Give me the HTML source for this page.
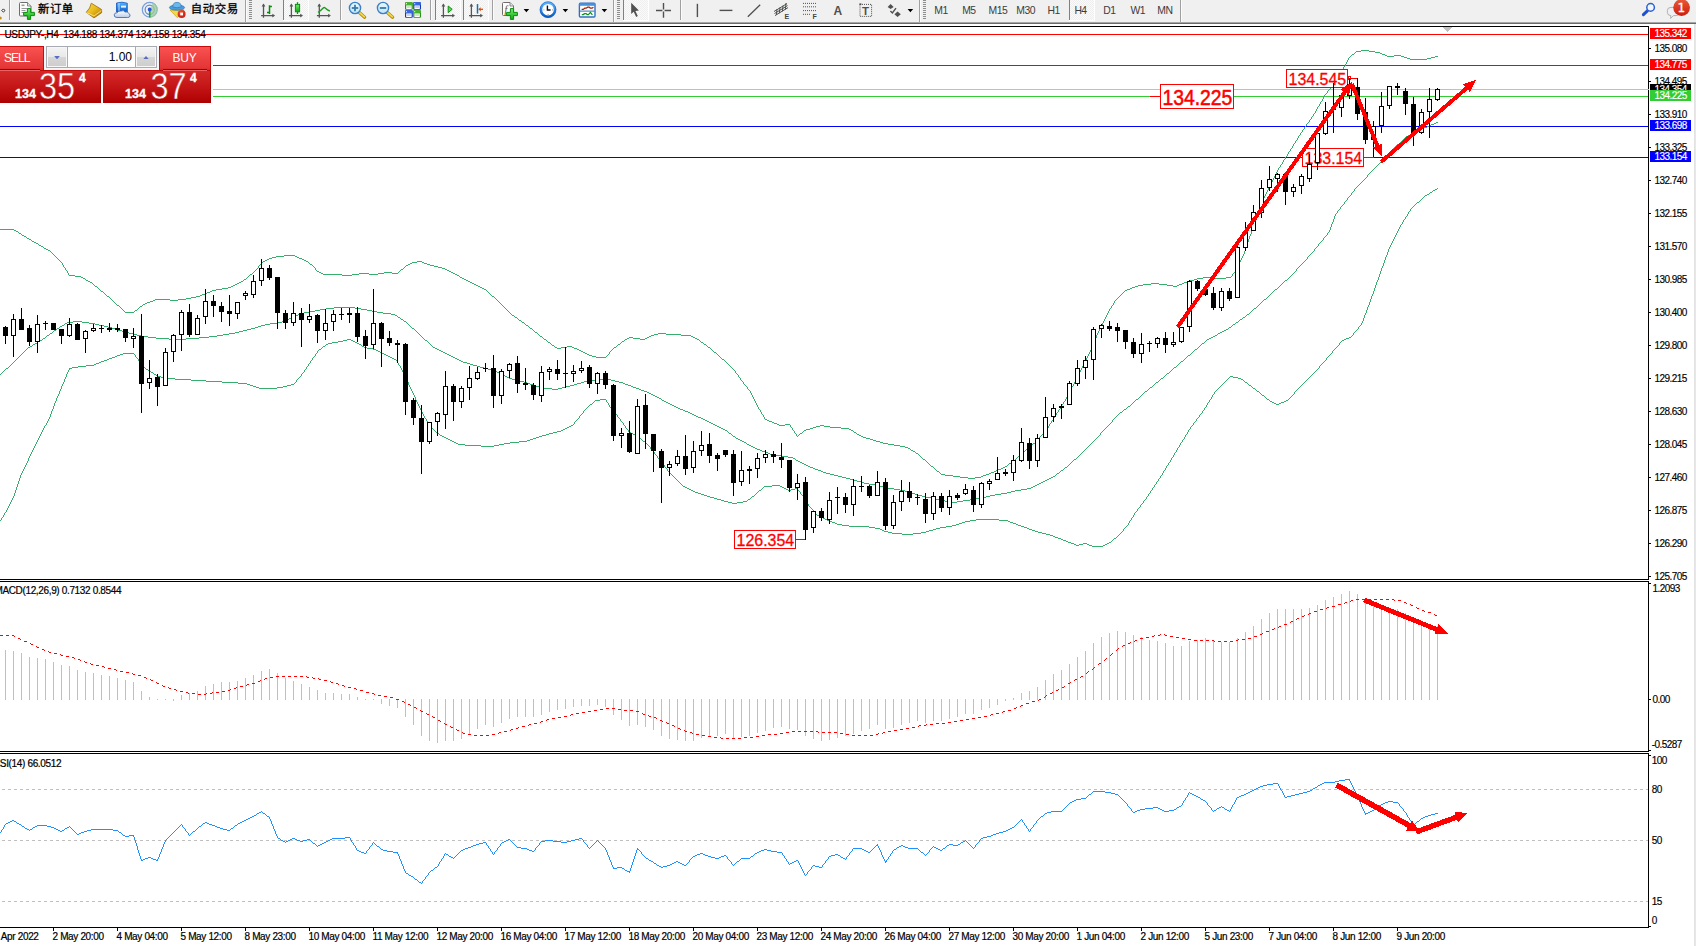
<!DOCTYPE html>
<html lang="zh"><head><meta charset="utf-8"><title>USDJPY H4</title>
<style>
html,body{margin:0;padding:0;background:#fff}
body{width:1696px;height:946px;position:relative;overflow:hidden;font-family:"Liberation Sans","Noto Sans CJK SC",sans-serif}
svg text{white-space:pre}
#tb{position:absolute;left:0;top:0;width:1696px;height:22px;background:#f0f0f0}
#tbs1{position:absolute;left:0;top:22px;width:1696px;height:1px;background:#a6a6a6}
#tbs2{position:absolute;left:0;top:23px;width:1696px;height:1px;background:#6a6a6a}

#oc{position:absolute;left:0;top:44px;width:213px;height:61px;background:#fff;font-family:"Liberation Sans",sans-serif}
#oc .mid{position:absolute;left:44px;top:2px;width:116px;height:24px;background:#f6f6f6}
#oc .btn{position:absolute;top:2px;height:24px;background:linear-gradient(#fa5252,#e43636 90%,#d82a2a);box-shadow:inset 0 1px 0 #c80c0c;color:#fff;font-size:12px}
#oc .sell{left:0;width:44px;box-shadow:inset -1px 1px 0 #c80c0c}
#oc .buy{left:159px;width:52px;box-shadow:inset 1px 1px 0 #c80c0c,inset -1px 0 0 #c80c0c}
#oc .btn span{position:absolute;top:5px;letter-spacing:-1px}
#oc .sell span{left:4px}
#oc .buy span{left:13.5px;letter-spacing:-0.2px}
#oc .btn i{position:absolute;top:23px;height:1px;background:#a00000;z-index:3}
#oc .btn b{position:absolute;top:24px;height:1px;background:#ec6262;z-index:3}
#oc .sell i,#oc .sell b{left:0;width:40px}
#oc .buy i,#oc .buy b{left:4px;width:44px}
#oc .vol{position:absolute;left:46px;top:2px;width:111px;height:22px;box-sizing:border-box;border:1px solid #a9abb3;background:#fff}
#oc .sp{position:absolute;top:0;width:20px;height:20px;background:linear-gradient(#f4f4f4,#e9e9e9 48%,#d6d6d6 52%,#cdcdcd);box-shadow:inset 0 0 0 1px #f7f7f7}
#oc .dn{left:0;border-right:1px solid #a9abb3}
#oc .up{right:0;border-left:1px solid #a9abb3}
#oc .sp svg{position:absolute;left:7px;top:8.5px;width:6px;height:3.3px;opacity:.9}
#oc .val{position:absolute;right:24px;top:3px;font-size:12px;color:#000}
#oc .px{position:absolute;top:26px;height:33px;background:linear-gradient(#d62a2a,#c41616 50%,#ae0000);color:#fff;box-shadow:inset 0 1px 0 #c00808,inset -1px 0 0 #a80000}
#oc .ps{left:0;width:101px}
#oc .pb{left:103px;width:108px}
#oc .px span{position:absolute;line-height:1}
#oc .px svg.bg{position:absolute;left:0;top:0;font-family:"Liberation Sans",sans-serif}
#oc .px .s{font-weight:bold;font-size:12.5px;top:17.5px;-webkit-text-stroke:0.35px #fff}
#oc .px .l{font-size:35px;top:-2.5px;transform-origin:0 0;transform:scaleX(0.93);letter-spacing:-1px}
#oc .px .t{font-weight:bold;font-size:12px;top:1.5px;-webkit-text-stroke:0.35px #fff}
#oc .ps .s{left:15px} #oc .ps .l{left:39px} #oc .ps .t{left:79px}
#oc .pb .s{left:22px} #oc .pb .l{left:47.5px} #oc .pb .t{left:87px}
</style></head><body>
<svg width="1696" height="946" viewBox="0 0 1696 946" shape-rendering="crispEdges" style="position:absolute;left:0;top:0">
<rect x="0" y="26" width="1649" height="1" fill="#000"/>
<rect x="1648" y="26" width="1" height="554" fill="#000"/>
<rect x="0" y="579" width="1649" height="1" fill="#000"/>
<rect x="0" y="581" width="1649" height="1" fill="#000"/>
<rect x="1648" y="581" width="1" height="171" fill="#000"/>
<rect x="0" y="751" width="1649" height="1" fill="#000"/>
<rect x="0" y="753" width="1649" height="1" fill="#000"/>
<rect x="1648" y="753" width="1" height="175" fill="#000"/>
<rect x="0" y="927" width="1649" height="1" fill="#000"/>
<rect x="1694" y="24" width="1" height="922" fill="#e2e2e2"/>
<rect x="1695" y="24" width="1" height="922" fill="#e8e8e8"/>
<rect x="0" y="34" width="1648" height="1" fill="#FF0000"/>
<rect x="0" y="65" width="1648" height="1" fill="#FF0000"/>
<rect x="0" y="89" width="1649" height="1" fill="#C0C0C0"/>
<rect x="0" y="96" width="1648" height="1" fill="#32CD32"/>
<rect x="0" y="126" width="1648" height="1" fill="#0000FF"/>
<rect x="0" y="157" width="1648" height="1" fill="#0000FF"/>
<polygon points="1443,27 1452,27 1447.5,32" fill="#C0C0C0"/>
<path d="M0 229h14v1h-14zM14 230h2v1h-2zM16 231h2v1h-2zM18 232h1v1h-1zM19 233h2v1h-2zM21 234h1v1h-1zM22 235h2v1h-2zM24 236h2v1h-2zM26 237h1v1h-1zM27 238h2v1h-2zM29 239h2v1h-2zM31 240h1v1h-1zM32 241h2v1h-2zM34 242h2v1h-2zM36 243h2v1h-2zM38 244h1v1h-1zM39 245h2v1h-2zM41 246h2v1h-2zM43 247h1v1h-1zM44 248h2v1h-2zM46 249h2v1h-2zM48 250h2v1h-2zM50 251h1v1h-1zM51 252h1v1h-1zM52 253h1v1h-1zM53 254h1v1h-1zM54 255h1v1h-1zM55 256h1v1h-1zM56 257h1v1h-1zM57 258h1v1h-1zM58 259h1v1h-1zM59 260h1v1h-1zM60 261h1v1h-1zM61 262h1v1h-1zM62 263h1v2h-1zM63 265h1v2h-1zM64 267h1v1h-1zM65 268h1v2h-1zM66 270h1v1h-1zM67 271h1v2h-1zM68 273h1v2h-1zM69 275h6v1h-6zM75 276h6v1h-6zM81 277h2v1h-2zM83 278h2v1h-2zM85 279h1v1h-1zM86 280h2v1h-2zM88 281h2v1h-2zM90 282h2v1h-2zM92 283h1v1h-1zM93 284h1v1h-1zM94 285h1v1h-1zM95 286h2v1h-2zM97 287h1v1h-1zM98 288h1v1h-1zM99 289h1v1h-1zM100 290h1v1h-1zM101 291h2v1h-2zM103 292h1v1h-1zM104 293h1v1h-1zM105 294h1v1h-1zM106 295h1v1h-1zM107 296h2v1h-2zM109 297h1v1h-1zM110 298h1v1h-1zM111 299h1v1h-1zM112 300h1v1h-1zM113 301h1v1h-1zM114 302h1v1h-1zM115 303h1v1h-1zM116 304h1v1h-1zM117 305h2v1h-2zM119 306h1v1h-1zM120 307h1v1h-1zM121 308h1v1h-1zM122 309h1v1h-1zM123 310h1v1h-1zM124 311h1v1h-1zM125 312h9v1h-9zM134 311h1v1h-1zM135 310h2v1h-2zM137 309h1v1h-1zM138 308h1v1h-1zM139 307h1v1h-1zM140 306h2v1h-2zM142 305h1v1h-1zM143 304h2v1h-2zM145 303h2v1h-2zM147 302h3v1h-3zM150 301h3v1h-3zM153 300h2v1h-2zM155 299h15v1h-15zM170 300h8v1h-8zM178 299h8v1h-8zM186 298h5v1h-5zM191 297h5v1h-5zM196 296h4v1h-4zM200 295h2v1h-2zM202 294h3v1h-3zM205 293h2v1h-2zM207 292h3v1h-3zM210 291h2v1h-2zM212 290h4v1h-4zM216 289h6v1h-6zM222 288h6v1h-6zM228 287h3v1h-3zM231 286h2v1h-2zM233 285h2v1h-2zM235 284h2v1h-2zM237 283h2v1h-2zM239 282h2v1h-2zM241 281h2v1h-2zM243 280h1v1h-1zM244 279h2v1h-2zM246 278h1v1h-1zM247 277h1v1h-1zM248 276h1v1h-1zM249 275h1v1h-1zM250 274h2v1h-2zM252 273h1v1h-1zM253 272h1v1h-1zM254 271h1v1h-1zM255 270h1v1h-1zM256 269h1v1h-1zM257 268h1v1h-1zM258 266h1v2h-1zM259 265h1v1h-1zM260 264h1v1h-1zM261 263h1v1h-1zM262 262h1v1h-1zM263 261h2v1h-2zM265 260h2v1h-2zM267 259h2v1h-2zM269 258h3v1h-3zM272 257h4v1h-4zM276 256h8v1h-8zM284 255h11v1h-11zM295 256h2v1h-2zM297 257h2v1h-2zM299 258h3v1h-3zM302 259h2v1h-2zM304 260h2v1h-2zM306 261h2v1h-2zM308 262h1v1h-1zM309 263h1v1h-1zM310 264h2v1h-2zM312 265h1v1h-1zM313 266h1v1h-1zM314 267h1v1h-1zM315 268h1v2h-1zM316 270h1v1h-1zM317 271h2v1h-2zM319 272h2v1h-2zM321 273h2v1h-2zM323 274h19v1h-19zM342 275h10v1h-10zM352 274h7v1h-7zM359 273h10v1h-10zM369 274h9v1h-9zM378 273h6v1h-6zM384 272h8v1h-8zM392 273h6v1h-6zM398 272h1v1h-1zM399 271h1v1h-1zM400 270h1v1h-1zM401 269h2v1h-2zM403 268h1v1h-1zM404 267h1v1h-1zM405 266h1v1h-1zM406 265h2v1h-2zM408 264h2v1h-2zM410 263h2v1h-2zM412 262h5v1h-5zM417 261h5v1h-5zM422 262h2v1h-2zM424 263h3v1h-3zM427 264h3v1h-3zM430 265h4v1h-4zM434 266h4v1h-4zM438 267h4v1h-4zM442 268h3v1h-3zM445 269h2v1h-2zM447 270h2v1h-2zM449 271h2v1h-2zM451 272h2v1h-2zM453 273h2v1h-2zM455 274h2v1h-2zM457 275h2v1h-2zM459 276h1v1h-1zM460 277h2v1h-2zM462 278h2v1h-2zM464 279h2v1h-2zM466 280h2v1h-2zM468 281h2v1h-2zM470 282h2v1h-2zM472 283h2v1h-2zM474 284h2v1h-2zM476 285h2v1h-2zM478 286h2v1h-2zM480 287h2v1h-2zM482 288h2v1h-2zM484 289h2v1h-2zM486 290h1v1h-1zM487 291h1v1h-1zM488 292h1v1h-1zM489 293h1v1h-1zM490 294h1v1h-1zM491 295h1v1h-1zM492 296h2v1h-2zM494 297h1v1h-1zM495 298h1v1h-1zM496 299h1v1h-1zM497 300h1v1h-1zM498 301h1v1h-1zM499 302h1v1h-1zM500 303h1v1h-1zM501 304h1v1h-1zM502 305h1v1h-1zM503 306h1v1h-1zM504 307h1v1h-1zM505 308h1v1h-1zM506 309h1v1h-1zM507 310h1v1h-1zM508 311h1v1h-1zM509 312h1v1h-1zM510 313h1v1h-1zM511 314h1v1h-1zM512 315h2v1h-2zM514 316h1v1h-1zM515 317h2v1h-2zM517 318h1v1h-1zM518 319h1v1h-1zM519 320h2v1h-2zM521 321h1v1h-1zM522 322h2v1h-2zM524 323h1v1h-1zM525 324h1v1h-1zM526 325h2v1h-2zM528 326h1v1h-1zM529 327h1v1h-1zM530 328h2v1h-2zM532 329h1v1h-1zM533 330h1v1h-1zM534 331h1v1h-1zM535 332h2v1h-2zM537 333h1v1h-1zM538 334h1v1h-1zM539 335h1v1h-1zM540 336h2v1h-2zM542 337h1v1h-1zM543 338h1v1h-1zM544 339h2v1h-2zM546 340h1v1h-1zM547 341h1v1h-1zM548 342h2v1h-2zM550 343h1v1h-1zM551 344h1v1h-1zM552 345h2v1h-2zM554 346h1v1h-1zM555 347h2v1h-2zM557 348h4v1h-4zM561 347h6v1h-6zM567 346h5v1h-5zM572 347h2v1h-2zM574 348h3v1h-3zM577 349h2v1h-2zM579 350h2v1h-2zM581 351h2v1h-2zM583 352h2v1h-2zM585 353h2v1h-2zM587 354h2v1h-2zM589 355h3v1h-3zM592 356h4v1h-4zM596 357h10v1h-10zM606 356h1v1h-1zM607 355h1v1h-1zM608 354h1v1h-1zM609 352h1v2h-1zM610 351h1v1h-1zM611 350h1v1h-1zM612 349h1v1h-1zM613 348h1v1h-1zM614 347h2v1h-2zM616 346h1v1h-1zM617 345h1v1h-1zM618 344h2v1h-2zM620 343h1v1h-1zM621 342h1v1h-1zM622 341h2v1h-2zM624 340h1v1h-1zM625 339h2v1h-2zM627 338h2v1h-2zM629 337h4v1h-4zM633 338h7v1h-7zM640 339h5v1h-5zM645 338h2v1h-2zM647 337h2v1h-2zM649 336h2v1h-2zM651 335h3v1h-3zM654 334h4v1h-4zM658 333h8v1h-8zM666 334h15v1h-15zM681 335h10v1h-10zM691 336h2v1h-2zM693 337h2v1h-2zM695 338h2v1h-2zM697 339h2v1h-2zM699 340h1v1h-1zM700 341h1v1h-1zM701 342h2v1h-2zM703 343h1v1h-1zM704 344h2v1h-2zM706 345h1v1h-1zM707 346h1v1h-1zM708 347h2v1h-2zM710 348h1v1h-1zM711 349h1v1h-1zM712 350h1v1h-1zM713 351h1v1h-1zM714 352h2v1h-2zM716 353h1v1h-1zM717 354h1v1h-1zM718 355h1v1h-1zM719 356h1v1h-1zM720 357h1v1h-1zM721 358h1v1h-1zM722 359h2v1h-2zM724 360h1v1h-1zM725 361h1v1h-1zM726 362h1v1h-1zM727 363h1v1h-1zM728 364h1v1h-1zM729 365h1v1h-1zM730 366h1v1h-1zM731 367h1v1h-1zM732 368h1v1h-1zM733 369h1v1h-1zM734 370h1v1h-1zM735 371h1v2h-1zM736 373h1v1h-1zM737 374h1v1h-1zM738 375h1v2h-1zM739 377h1v1h-1zM740 378h1v2h-1zM741 380h1v1h-1zM742 381h1v1h-1zM743 382h1v2h-1zM744 384h1v1h-1zM745 385h1v1h-1zM746 386h1v1h-1zM747 387h1v2h-1zM748 389h1v1h-1zM749 390h1v1h-1zM750 391h1v2h-1zM751 393h1v2h-1zM752 395h1v2h-1zM753 397h1v2h-1zM754 399h1v2h-1zM755 401h1v2h-1zM756 403h1v2h-1zM757 405h1v2h-1zM758 407h1v2h-1zM759 409h1v1h-1zM760 410h1v2h-1zM761 412h1v2h-1zM762 414h1v1h-1zM763 415h1v2h-1zM764 417h1v2h-1zM765 419h2v1h-2zM767 420h2v1h-2zM769 421h3v1h-3zM772 422h2v1h-2zM774 423h3v1h-3zM777 424h2v1h-2zM779 425h6v1h-6zM785 424h5v1h-5zM790 425h1v2h-1zM791 427h1v1h-1zM792 428h1v2h-1zM793 430h1v1h-1zM794 431h1v2h-1zM795 433h1v1h-1zM796 434h1v2h-1zM797 436h1v1h-1zM798 435h1v1h-1zM799 434h1v1h-1zM800 433h2v1h-2zM802 432h1v1h-1zM803 431h1v1h-1zM804 430h2v1h-2zM806 429h4v1h-4zM810 428h3v1h-3zM813 427h3v1h-3zM816 426h4v1h-4zM820 425h4v1h-4zM824 426h6v1h-6zM830 427h11v1h-11zM841 428h8v1h-8zM849 429h2v1h-2zM851 430h2v1h-2zM853 431h1v1h-1zM854 432h2v1h-2zM856 433h1v1h-1zM857 434h2v1h-2zM859 435h2v1h-2zM861 436h2v1h-2zM863 437h3v1h-3zM866 438h4v1h-4zM870 439h3v1h-3zM873 440h3v1h-3zM876 441h4v1h-4zM880 442h3v1h-3zM883 443h5v1h-5zM888 444h6v1h-6zM894 445h6v1h-6zM900 446h5v1h-5zM905 447h3v1h-3zM908 448h2v1h-2zM910 449h1v1h-1zM911 450h2v1h-2zM913 451h2v1h-2zM915 452h1v1h-1zM916 453h2v1h-2zM918 454h1v1h-1zM919 455h1v1h-1zM920 456h1v1h-1zM921 457h1v1h-1zM922 458h1v1h-1zM923 459h2v1h-2zM925 460h1v1h-1zM926 461h1v1h-1zM927 462h1v1h-1zM928 463h1v1h-1zM929 464h1v1h-1zM930 465h1v1h-1zM931 466h2v1h-2zM933 467h1v1h-1zM934 468h1v1h-1zM935 469h1v1h-1zM936 470h1v1h-1zM937 471h2v1h-2zM939 472h1v1h-1zM940 473h1v1h-1zM941 474h4v1h-4zM945 475h8v1h-8zM953 476h7v1h-7zM960 477h8v1h-8zM968 478h7v1h-7zM975 477h6v1h-6zM981 476h2v1h-2zM983 475h3v1h-3zM986 474h3v1h-3zM989 473h2v1h-2zM991 472h3v1h-3zM994 471h2v1h-2zM996 470h2v1h-2zM998 469h3v1h-3zM1001 468h2v1h-2zM1003 467h2v1h-2zM1005 466h2v1h-2zM1007 465h1v1h-1zM1008 464h1v1h-1zM1009 463h2v1h-2zM1011 462h1v1h-1zM1012 461h1v1h-1zM1013 460h2v1h-2zM1015 459h1v1h-1zM1016 458h1v1h-1zM1017 457h1v1h-1zM1018 456h1v1h-1zM1019 455h1v1h-1zM1020 454h2v1h-2zM1022 453h1v1h-1zM1023 452h1v1h-1zM1024 451h1v1h-1zM1025 450h1v1h-1zM1026 449h1v1h-1zM1027 448h1v1h-1zM1028 447h2v1h-2zM1030 446h1v1h-1zM1031 445h1v1h-1zM1032 444h1v1h-1zM1033 443h2v1h-2zM1035 442h1v1h-1zM1036 441h1v1h-1zM1037 440h1v1h-1zM1038 439h1v1h-1zM1039 437h1v2h-1zM1040 436h1v1h-1zM1041 435h1v1h-1zM1042 434h1v1h-1zM1043 433h1v1h-1zM1044 431h1v2h-1zM1045 430h1v1h-1zM1046 429h1v1h-1zM1047 428h1v1h-1zM1048 426h1v2h-1zM1049 424h1v2h-1zM1050 423h1v1h-1zM1051 421h1v2h-1zM1052 420h1v1h-1zM1053 418h1v2h-1zM1054 416h1v2h-1zM1055 415h1v1h-1zM1056 413h1v2h-1zM1057 412h1v1h-1zM1058 410h1v2h-1zM1059 409h1v1h-1zM1060 407h1v2h-1zM1061 405h1v2h-1zM1062 404h1v1h-1zM1063 402h1v2h-1zM1064 401h1v1h-1zM1065 399h1v2h-1zM1066 397h1v2h-1zM1067 395h1v2h-1zM1068 393h1v2h-1zM1069 391h1v2h-1zM1070 389h1v2h-1zM1071 387h1v2h-1zM1072 386h1v1h-1zM1073 384h1v2h-1zM1074 382h1v2h-1zM1075 380h1v2h-1zM1076 378h1v2h-1zM1077 376h1v2h-1zM1078 374h1v2h-1zM1079 372h1v2h-1zM1080 370h1v2h-1zM1081 368h1v2h-1zM1082 366h1v2h-1zM1083 364h1v2h-1zM1084 362h1v2h-1zM1085 360h1v2h-1zM1086 358h1v2h-1zM1087 356h1v2h-1zM1088 354h1v2h-1zM1089 352h1v2h-1zM1090 350h1v2h-1zM1091 347h1v3h-1zM1092 345h1v2h-1zM1093 342h1v3h-1zM1094 340h1v2h-1zM1095 338h1v2h-1zM1096 335h1v3h-1zM1097 333h1v2h-1zM1098 331h1v2h-1zM1099 329h1v2h-1zM1100 327h1v2h-1zM1101 325h1v2h-1zM1102 323h1v2h-1zM1103 321h1v2h-1zM1104 319h1v2h-1zM1105 317h1v2h-1zM1106 315h1v2h-1zM1107 313h1v2h-1zM1108 311h1v2h-1zM1109 309h1v2h-1zM1110 308h1v1h-1zM1111 306h1v2h-1zM1112 305h1v1h-1zM1113 303h1v2h-1zM1114 301h1v2h-1zM1115 300h1v1h-1zM1116 299h1v1h-1zM1117 298h1v1h-1zM1118 297h1v1h-1zM1119 296h1v1h-1zM1120 295h1v1h-1zM1121 294h1v1h-1zM1122 293h1v1h-1zM1123 292h1v1h-1zM1124 291h1v1h-1zM1125 290h2v1h-2zM1127 289h3v1h-3zM1130 288h2v1h-2zM1132 287h3v1h-3zM1135 286h3v1h-3zM1138 285h5v1h-5zM1143 284h8v1h-8zM1151 283h8v1h-8zM1159 284h8v1h-8zM1167 285h6v1h-6zM1173 286h4v1h-4zM1177 285h2v1h-2zM1179 284h3v1h-3zM1182 283h2v1h-2zM1184 282h3v1h-3zM1187 281h3v1h-3zM1190 280h4v1h-4zM1194 279h3v1h-3zM1197 278h6v1h-6zM1203 277h12v1h-12zM1215 278h11v1h-11zM1226 277h5v1h-5zM1231 276h1v1h-1zM1232 274h1v2h-1zM1233 273h1v1h-1zM1234 272h1v1h-1zM1235 270h1v2h-1zM1236 268h1v2h-1zM1237 266h1v2h-1zM1238 264h1v2h-1zM1239 262h1v2h-1zM1240 260h1v2h-1zM1241 258h1v2h-1zM1242 256h1v2h-1zM1243 254h1v2h-1zM1244 251h1v3h-1zM1245 248h1v3h-1zM1246 245h1v3h-1zM1247 242h1v3h-1zM1248 239h1v3h-1zM1249 236h1v3h-1zM1250 234h1v2h-1zM1251 231h1v3h-1zM1252 228h1v3h-1zM1253 225h1v3h-1zM1254 223h1v2h-1zM1255 220h1v3h-1zM1256 217h1v3h-1zM1257 214h1v3h-1zM1258 212h1v2h-1zM1259 209h1v3h-1zM1260 206h1v3h-1zM1261 203h1v3h-1zM1262 201h1v2h-1zM1263 198h1v3h-1zM1264 196h1v2h-1zM1265 194h1v2h-1zM1266 192h1v2h-1zM1267 190h1v2h-1zM1268 188h1v2h-1zM1269 186h1v2h-1zM1270 184h1v2h-1zM1271 182h1v2h-1zM1272 180h1v2h-1zM1273 178h1v2h-1zM1274 176h1v2h-1zM1275 174h1v2h-1zM1276 172h1v2h-1zM1277 170h1v2h-1zM1278 168h1v2h-1zM1279 167h1v1h-1zM1280 165h1v2h-1zM1281 164h1v1h-1zM1282 162h1v2h-1zM1283 160h1v2h-1zM1284 159h1v1h-1zM1285 157h1v2h-1zM1286 156h1v1h-1zM1287 154h1v2h-1zM1288 152h1v2h-1zM1289 151h1v1h-1zM1290 149h1v2h-1zM1291 148h1v1h-1zM1292 146h1v2h-1zM1293 144h1v2h-1zM1294 143h1v1h-1zM1295 141h1v2h-1zM1296 140h1v1h-1zM1297 138h1v2h-1zM1298 136h1v2h-1zM1299 135h1v1h-1zM1300 133h1v2h-1zM1301 132h1v1h-1zM1302 130h1v2h-1zM1303 129h1v1h-1zM1304 127h1v2h-1zM1305 126h1v1h-1zM1306 124h1v2h-1zM1307 123h1v1h-1zM1308 122h1v1h-1zM1309 120h1v2h-1zM1310 119h1v1h-1zM1311 117h1v2h-1zM1312 116h1v1h-1zM1313 114h1v2h-1zM1314 113h1v1h-1zM1315 111h1v2h-1zM1316 109h1v2h-1zM1317 107h1v2h-1zM1318 106h1v1h-1zM1319 104h1v2h-1zM1320 102h1v2h-1zM1321 101h1v1h-1zM1322 99h1v2h-1zM1323 97h1v2h-1zM1324 95h1v2h-1zM1325 94h1v1h-1zM1326 93h1v1h-1zM1327 91h1v2h-1zM1328 90h1v1h-1zM1329 89h1v1h-1zM1330 87h1v2h-1zM1331 86h1v1h-1zM1332 85h1v1h-1zM1333 83h1v2h-1zM1334 82h1v1h-1zM1335 81h1v1h-1zM1336 79h1v2h-1zM1337 77h1v2h-1zM1338 76h1v1h-1zM1339 74h1v2h-1zM1340 72h1v2h-1zM1341 71h1v1h-1zM1342 69h1v2h-1zM1343 67h1v2h-1zM1344 66h1v1h-1zM1345 64h1v2h-1zM1346 62h1v2h-1zM1347 60h1v2h-1zM1348 58h1v2h-1zM1349 57h1v1h-1zM1350 56h1v1h-1zM1351 55h1v1h-1zM1352 54h2v1h-2zM1354 53h1v1h-1zM1355 52h1v1h-1zM1356 51h5v1h-5zM1361 50h8v1h-8zM1369 51h6v1h-6zM1375 52h5v1h-5zM1380 53h2v1h-2zM1382 54h3v1h-3zM1385 55h2v1h-2zM1387 56h7v1h-7zM1394 55h7v1h-7zM1401 56h3v1h-3zM1404 57h3v1h-3zM1407 58h3v1h-3zM1410 59h17v1h-17zM1427 58h4v1h-4zM1431 57h4v1h-4zM1435 56h3v1h-3z" fill="#36AE6E"/>
<path d="M0 374h1v1h-1zM1 373h1v1h-1zM2 372h1v1h-1zM3 371h1v1h-1zM4 370h1v1h-1zM5 369h1v1h-1zM6 368h2v1h-2zM8 367h1v1h-1zM9 366h1v1h-1zM10 365h1v1h-1zM11 364h1v1h-1zM12 363h1v1h-1zM13 362h1v1h-1zM14 361h1v1h-1zM15 360h1v1h-1zM16 359h1v1h-1zM17 358h1v1h-1zM18 357h1v1h-1zM19 356h1v1h-1zM20 355h1v1h-1zM21 354h1v1h-1zM22 353h1v1h-1zM23 352h1v1h-1zM24 351h1v1h-1zM25 350h1v1h-1zM26 349h1v1h-1zM27 348h1v1h-1zM28 347h2v1h-2zM30 346h2v1h-2zM32 345h1v1h-1zM33 344h2v1h-2zM35 343h2v1h-2zM37 342h1v1h-1zM38 341h2v1h-2zM40 340h2v1h-2zM42 339h1v1h-1zM43 338h2v1h-2zM45 337h1v1h-1zM46 336h1v1h-1zM47 335h2v1h-2zM49 334h1v1h-1zM50 333h2v1h-2zM52 332h1v1h-1zM53 331h1v1h-1zM54 330h2v1h-2zM56 329h1v1h-1zM57 328h2v1h-2zM59 327h1v1h-1zM60 326h2v1h-2zM62 325h2v1h-2zM64 324h1v1h-1zM65 323h2v1h-2zM67 322h6v1h-6zM73 321h9v1h-9zM82 322h7v1h-7zM89 323h6v1h-6zM95 324h4v1h-4zM99 325h5v1h-5zM104 326h4v1h-4zM108 327h4v1h-4zM112 328h3v1h-3zM115 329h3v1h-3zM118 330h4v1h-4zM122 331h3v1h-3zM125 332h4v1h-4zM129 333h4v1h-4zM133 334h4v1h-4zM137 335h4v1h-4zM141 336h7v1h-7zM148 337h8v1h-8zM156 338h13v1h-13zM169 339h17v1h-17zM186 338h13v1h-13zM199 337h10v1h-10zM209 336h8v1h-8zM217 335h6v1h-6zM223 334h6v1h-6zM229 333h6v1h-6zM235 332h4v1h-4zM239 331h4v1h-4zM243 330h4v1h-4zM247 329h4v1h-4zM251 328h4v1h-4zM255 327h3v1h-3zM258 326h3v1h-3zM261 325h4v1h-4zM265 324h5v1h-5zM270 323h7v1h-7zM277 322h5v1h-5zM282 321h2v1h-2zM284 320h2v1h-2zM286 319h3v1h-3zM289 318h2v1h-2zM291 317h2v1h-2zM293 316h3v1h-3zM296 315h2v1h-2zM298 314h2v1h-2zM300 313h4v1h-4zM304 312h5v1h-5zM309 311h6v1h-6zM315 310h5v1h-5zM320 309h6v1h-6zM326 308h8v1h-8zM334 307h21v1h-21zM355 308h6v1h-6zM361 309h6v1h-6zM367 310h5v1h-5zM372 311h5v1h-5zM377 312h6v1h-6zM383 313h8v1h-8zM391 314h4v1h-4zM395 315h2v1h-2zM397 316h1v1h-1zM398 317h2v1h-2zM400 318h1v1h-1zM401 319h2v1h-2zM403 320h1v1h-1zM404 321h2v1h-2zM406 322h1v1h-1zM407 323h1v1h-1zM408 324h1v1h-1zM409 325h1v1h-1zM410 326h1v1h-1zM411 327h1v1h-1zM412 328h2v1h-2zM414 329h1v1h-1zM415 330h1v1h-1zM416 331h1v1h-1zM417 332h1v1h-1zM418 333h1v1h-1zM419 334h1v1h-1zM420 335h1v1h-1zM421 336h1v1h-1zM422 337h1v1h-1zM423 338h1v1h-1zM424 339h1v1h-1zM425 340h2v1h-2zM427 341h1v1h-1zM428 342h1v1h-1zM429 343h1v1h-1zM430 344h1v1h-1zM431 345h1v1h-1zM432 346h1v1h-1zM433 347h2v1h-2zM435 348h2v1h-2zM437 349h2v1h-2zM439 350h2v1h-2zM441 351h2v1h-2zM443 352h2v1h-2zM445 353h2v1h-2zM447 354h2v1h-2zM449 355h2v1h-2zM451 356h2v1h-2zM453 357h2v1h-2zM455 358h2v1h-2zM457 359h2v1h-2zM459 360h2v1h-2zM461 361h2v1h-2zM463 362h4v1h-4zM467 363h3v1h-3zM470 364h3v1h-3zM473 365h4v1h-4zM477 366h3v1h-3zM480 367h4v1h-4zM484 368h4v1h-4zM488 369h4v1h-4zM492 370h3v1h-3zM495 371h2v1h-2zM497 372h2v1h-2zM499 373h2v1h-2zM501 374h2v1h-2zM503 375h2v1h-2zM505 376h2v1h-2zM507 377h2v1h-2zM509 378h3v1h-3zM512 379h4v1h-4zM516 380h4v1h-4zM520 381h4v1h-4zM524 382h3v1h-3zM527 383h3v1h-3zM530 384h3v1h-3zM533 385h3v1h-3zM536 386h3v1h-3zM539 387h5v1h-5zM544 388h8v1h-8zM552 389h6v1h-6zM558 388h4v1h-4zM562 387h4v1h-4zM566 386h4v1h-4zM570 385h4v1h-4zM574 384h3v1h-3zM577 383h4v1h-4zM581 382h3v1h-3zM584 381h5v1h-5zM589 380h6v1h-6zM595 379h16v1h-16zM611 380h4v1h-4zM615 381h4v1h-4zM619 382h4v1h-4zM623 383h2v1h-2zM625 384h3v1h-3zM628 385h3v1h-3zM631 386h2v1h-2zM633 387h3v1h-3zM636 388h3v1h-3zM639 389h2v1h-2zM641 390h3v1h-3zM644 391h3v1h-3zM647 392h2v1h-2zM649 393h2v1h-2zM651 394h2v1h-2zM653 395h2v1h-2zM655 396h2v1h-2zM657 397h2v1h-2zM659 398h2v1h-2zM661 399h1v1h-1zM662 400h2v1h-2zM664 401h2v1h-2zM666 402h2v1h-2zM668 403h2v1h-2zM670 404h2v1h-2zM672 405h2v1h-2zM674 406h2v1h-2zM676 407h2v1h-2zM678 408h2v1h-2zM680 409h3v1h-3zM683 410h2v1h-2zM685 411h3v1h-3zM688 412h2v1h-2zM690 413h2v1h-2zM692 414h2v1h-2zM694 415h2v1h-2zM696 416h2v1h-2zM698 417h3v1h-3zM701 418h2v1h-2zM703 419h2v1h-2zM705 420h2v1h-2zM707 421h2v1h-2zM709 422h2v1h-2zM711 423h2v1h-2zM713 424h2v1h-2zM715 425h2v1h-2zM717 426h2v1h-2zM719 427h2v1h-2zM721 428h2v1h-2zM723 429h2v1h-2zM725 430h2v1h-2zM727 431h1v1h-1zM728 432h1v1h-1zM729 433h2v1h-2zM731 434h1v1h-1zM732 435h1v1h-1zM733 436h2v1h-2zM735 437h1v1h-1zM736 438h2v1h-2zM738 439h2v1h-2zM740 440h2v1h-2zM742 441h2v1h-2zM744 442h2v1h-2zM746 443h1v1h-1zM747 444h2v1h-2zM749 445h2v1h-2zM751 446h2v1h-2zM753 447h2v1h-2zM755 448h2v1h-2zM757 449h3v1h-3zM760 450h2v1h-2zM762 451h3v1h-3zM765 452h3v1h-3zM768 453h2v1h-2zM770 454h5v1h-5zM775 455h6v1h-6zM781 456h7v1h-7zM788 457h5v1h-5zM793 458h2v1h-2zM795 459h1v1h-1zM796 460h2v1h-2zM798 461h2v1h-2zM800 462h2v1h-2zM802 463h2v1h-2zM804 464h2v1h-2zM806 465h2v1h-2zM808 466h2v1h-2zM810 467h3v1h-3zM813 468h2v1h-2zM815 469h3v1h-3zM818 470h3v1h-3zM821 471h2v1h-2zM823 472h3v1h-3zM826 473h4v1h-4zM830 474h4v1h-4zM834 475h4v1h-4zM838 476h4v1h-4zM842 477h4v1h-4zM846 478h4v1h-4zM850 479h4v1h-4zM854 480h3v1h-3zM857 481h4v1h-4zM861 482h3v1h-3zM864 483h5v1h-5zM869 484h6v1h-6zM875 485h5v1h-5zM880 486h4v1h-4zM884 487h4v1h-4zM888 488h6v1h-6zM894 489h6v1h-6zM900 490h5v1h-5zM905 491h3v1h-3zM908 492h4v1h-4zM912 493h3v1h-3zM915 494h3v1h-3zM918 495h4v1h-4zM922 496h4v1h-4zM926 497h5v1h-5zM931 498h4v1h-4zM935 499h4v1h-4zM939 500h6v1h-6zM945 501h6v1h-6zM951 502h6v1h-6zM957 501h6v1h-6zM963 500h7v1h-7zM970 499h6v1h-6zM976 498h6v1h-6zM982 497h4v1h-4zM986 496h4v1h-4zM990 495h5v1h-5zM995 494h6v1h-6zM1001 493h6v1h-6zM1007 492h4v1h-4zM1011 491h4v1h-4zM1015 490h6v1h-6zM1021 489h6v1h-6zM1027 488h4v1h-4zM1031 487h2v1h-2zM1033 486h2v1h-2zM1035 485h2v1h-2zM1037 484h2v1h-2zM1039 483h2v1h-2zM1041 482h2v1h-2zM1043 481h2v1h-2zM1045 480h2v1h-2zM1047 479h2v1h-2zM1049 478h2v1h-2zM1051 477h2v1h-2zM1053 476h2v1h-2zM1055 475h1v1h-1zM1056 474h1v1h-1zM1057 473h2v1h-2zM1059 472h1v1h-1zM1060 471h1v1h-1zM1061 470h2v1h-2zM1063 469h1v1h-1zM1064 468h1v1h-1zM1065 467h2v1h-2zM1067 466h1v1h-1zM1068 465h1v1h-1zM1069 464h1v1h-1zM1070 463h1v1h-1zM1071 462h1v1h-1zM1072 461h1v1h-1zM1073 460h1v1h-1zM1074 459h2v1h-2zM1076 458h1v1h-1zM1077 457h1v1h-1zM1078 456h1v1h-1zM1079 455h1v1h-1zM1080 454h1v1h-1zM1081 453h1v1h-1zM1082 452h1v1h-1zM1083 451h1v1h-1zM1084 450h1v1h-1zM1085 449h1v1h-1zM1086 448h1v1h-1zM1087 447h1v1h-1zM1088 446h1v1h-1zM1089 445h1v1h-1zM1090 444h1v1h-1zM1091 443h1v1h-1zM1092 442h1v1h-1zM1093 441h1v1h-1zM1094 440h1v1h-1zM1095 439h1v1h-1zM1096 438h1v1h-1zM1097 437h1v1h-1zM1098 436h1v1h-1zM1099 435h1v1h-1zM1100 433h1v2h-1zM1101 432h1v1h-1zM1102 431h1v1h-1zM1103 430h1v1h-1zM1104 429h1v1h-1zM1105 428h1v1h-1zM1106 427h1v1h-1zM1107 426h1v1h-1zM1108 425h1v1h-1zM1109 424h1v1h-1zM1110 423h1v1h-1zM1111 422h1v1h-1zM1112 420h1v2h-1zM1113 419h1v1h-1zM1114 418h1v1h-1zM1115 417h1v1h-1zM1116 416h1v1h-1zM1117 415h1v1h-1zM1118 414h1v1h-1zM1119 413h1v1h-1zM1120 412h2v1h-2zM1122 411h1v1h-1zM1123 410h1v1h-1zM1124 409h2v1h-2zM1126 408h1v1h-1zM1127 407h1v1h-1zM1128 406h2v1h-2zM1130 405h1v1h-1zM1131 404h1v1h-1zM1132 403h1v1h-1zM1133 402h1v1h-1zM1134 401h1v1h-1zM1135 400h1v1h-1zM1136 399h2v1h-2zM1138 398h1v1h-1zM1139 397h1v1h-1zM1140 396h1v1h-1zM1141 395h1v1h-1zM1142 394h1v1h-1zM1143 393h1v1h-1zM1144 392h1v1h-1zM1145 391h2v1h-2zM1147 390h1v1h-1zM1148 389h1v1h-1zM1149 388h1v1h-1zM1150 387h2v1h-2zM1152 386h1v1h-1zM1153 385h1v1h-1zM1154 384h1v1h-1zM1155 383h1v1h-1zM1156 382h2v1h-2zM1158 381h1v1h-1zM1159 380h1v1h-1zM1160 379h1v1h-1zM1161 378h2v1h-2zM1163 377h1v1h-1zM1164 376h1v1h-1zM1165 375h1v1h-1zM1166 374h1v1h-1zM1167 373h2v1h-2zM1169 372h1v1h-1zM1170 371h1v1h-1zM1171 370h1v1h-1zM1172 369h1v1h-1zM1173 368h1v1h-1zM1174 367h2v1h-2zM1176 366h1v1h-1zM1177 365h1v1h-1zM1178 364h1v1h-1zM1179 363h1v1h-1zM1180 362h1v1h-1zM1181 361h2v1h-2zM1183 360h1v1h-1zM1184 359h1v1h-1zM1185 358h1v1h-1zM1186 357h1v1h-1zM1187 356h1v1h-1zM1188 355h2v1h-2zM1190 354h1v1h-1zM1191 353h1v1h-1zM1192 352h1v1h-1zM1193 351h1v1h-1zM1194 350h1v1h-1zM1195 349h2v1h-2zM1197 348h1v1h-1zM1198 347h1v1h-1zM1199 346h1v1h-1zM1200 345h1v1h-1zM1201 344h1v1h-1zM1202 343h2v1h-2zM1204 342h1v1h-1zM1205 341h1v1h-1zM1206 340h1v1h-1zM1207 339h2v1h-2zM1209 338h2v1h-2zM1211 337h2v1h-2zM1213 336h2v1h-2zM1215 335h2v1h-2zM1217 334h1v1h-1zM1218 333h2v1h-2zM1220 332h2v1h-2zM1222 331h2v1h-2zM1224 330h2v1h-2zM1226 329h2v1h-2zM1228 328h1v1h-1zM1229 327h2v1h-2zM1231 326h1v1h-1zM1232 325h1v1h-1zM1233 324h2v1h-2zM1235 323h1v1h-1zM1236 322h2v1h-2zM1238 321h1v1h-1zM1239 320h1v1h-1zM1240 319h2v1h-2zM1242 318h1v1h-1zM1243 317h2v1h-2zM1245 316h1v1h-1zM1246 315h1v1h-1zM1247 314h2v1h-2zM1249 313h1v1h-1zM1250 312h1v1h-1zM1251 311h1v1h-1zM1252 310h1v1h-1zM1253 309h1v1h-1zM1254 308h2v1h-2zM1256 307h1v1h-1zM1257 306h1v1h-1zM1258 305h1v1h-1zM1259 304h1v1h-1zM1260 303h1v1h-1zM1261 302h1v1h-1zM1262 301h1v1h-1zM1263 300h1v1h-1zM1264 299h2v1h-2zM1266 298h1v1h-1zM1267 297h1v1h-1zM1268 296h1v1h-1zM1269 295h1v1h-1zM1270 294h1v1h-1zM1271 293h1v1h-1zM1272 292h1v1h-1zM1273 291h1v1h-1zM1274 290h1v1h-1zM1275 289h2v1h-2zM1277 288h1v1h-1zM1278 287h1v1h-1zM1279 286h1v1h-1zM1280 285h1v1h-1zM1281 284h1v1h-1zM1282 283h1v1h-1zM1283 282h1v1h-1zM1284 281h1v1h-1zM1285 280h2v1h-2zM1287 279h1v1h-1zM1288 278h1v1h-1zM1289 277h1v1h-1zM1290 276h1v1h-1zM1291 275h1v1h-1zM1292 274h1v1h-1zM1293 273h1v1h-1zM1294 272h1v1h-1zM1295 271h1v1h-1zM1296 269h1v2h-1zM1297 268h1v1h-1zM1298 267h1v1h-1zM1299 266h1v1h-1zM1300 265h1v1h-1zM1301 264h1v1h-1zM1302 263h1v1h-1zM1303 262h1v1h-1zM1304 261h1v1h-1zM1305 260h1v1h-1zM1306 259h1v1h-1zM1307 257h1v2h-1zM1308 256h1v1h-1zM1309 255h1v1h-1zM1310 254h1v1h-1zM1311 253h1v1h-1zM1312 252h1v1h-1zM1313 251h1v1h-1zM1314 249h1v2h-1zM1315 248h1v1h-1zM1316 247h1v1h-1zM1317 246h1v1h-1zM1318 244h1v2h-1zM1319 243h1v1h-1zM1320 242h1v1h-1zM1321 241h1v1h-1zM1322 240h1v1h-1zM1323 238h1v2h-1zM1324 237h1v1h-1zM1325 236h1v1h-1zM1326 235h1v1h-1zM1327 233h1v2h-1zM1328 232h1v1h-1zM1329 230h1v2h-1zM1330 227h1v3h-1zM1331 224h1v3h-1zM1332 222h1v2h-1zM1333 219h1v3h-1zM1334 216h1v3h-1zM1335 214h1v2h-1zM1336 213h1v1h-1zM1337 211h1v2h-1zM1338 210h1v1h-1zM1339 209h1v1h-1zM1340 207h1v2h-1zM1341 206h1v1h-1zM1342 205h1v1h-1zM1343 204h1v1h-1zM1344 202h1v2h-1zM1345 201h1v1h-1zM1346 200h1v1h-1zM1347 198h1v2h-1zM1348 197h1v1h-1zM1349 196h1v1h-1zM1350 195h1v1h-1zM1351 193h1v2h-1zM1352 192h1v1h-1zM1353 191h1v1h-1zM1354 189h1v2h-1zM1355 188h1v1h-1zM1356 187h1v1h-1zM1357 186h1v1h-1zM1358 185h1v1h-1zM1359 184h1v1h-1zM1360 183h1v1h-1zM1361 182h1v1h-1zM1362 181h1v1h-1zM1363 180h1v1h-1zM1364 179h1v1h-1zM1365 178h1v1h-1zM1366 177h1v1h-1zM1367 175h1v2h-1zM1368 174h1v1h-1zM1369 173h1v1h-1zM1370 172h1v1h-1zM1371 171h1v1h-1zM1372 170h1v1h-1zM1373 169h1v1h-1zM1374 168h1v1h-1zM1375 167h1v1h-1zM1376 166h1v1h-1zM1377 165h1v1h-1zM1378 164h1v1h-1zM1379 163h1v1h-1zM1380 162h1v1h-1zM1381 161h1v1h-1zM1382 160h1v1h-1zM1383 159h1v1h-1zM1384 157h1v2h-1zM1385 156h1v1h-1zM1386 155h1v1h-1zM1387 154h1v1h-1zM1388 153h1v1h-1zM1389 152h1v1h-1zM1390 151h1v1h-1zM1391 150h1v1h-1zM1392 149h1v1h-1zM1393 148h1v1h-1zM1394 147h1v1h-1zM1395 146h1v1h-1zM1396 145h1v1h-1zM1397 144h2v1h-2zM1399 143h1v1h-1zM1400 142h1v1h-1zM1401 141h1v1h-1zM1402 140h1v1h-1zM1403 139h1v1h-1zM1404 138h1v1h-1zM1405 137h1v1h-1zM1406 136h2v1h-2zM1408 135h2v1h-2zM1410 134h2v1h-2zM1412 133h2v1h-2zM1414 132h2v1h-2zM1416 131h2v1h-2zM1418 130h2v1h-2zM1420 129h2v1h-2zM1422 128h2v1h-2zM1424 127h3v1h-3zM1427 126h2v1h-2zM1429 125h2v1h-2zM1431 124h3v1h-3zM1434 123h2v1h-2zM1436 122h2v1h-2z" fill="#36AE6E"/>
<path d="M0 520h1v1h-1zM1 518h1v2h-1zM2 517h1v1h-1zM3 515h1v2h-1zM4 513h1v2h-1zM5 512h1v1h-1zM6 510h1v2h-1zM7 508h1v2h-1zM8 506h1v2h-1zM9 504h1v2h-1zM10 502h1v2h-1zM11 500h1v2h-1zM12 498h1v2h-1zM13 496h1v2h-1zM14 493h1v3h-1zM15 490h1v3h-1zM16 487h1v3h-1zM17 484h1v3h-1zM18 481h1v3h-1zM19 478h1v3h-1zM20 475h1v3h-1zM21 473h1v2h-1zM22 471h1v2h-1zM23 469h1v2h-1zM24 467h1v2h-1zM25 465h1v2h-1zM26 463h1v2h-1zM27 461h1v2h-1zM28 458h1v3h-1zM29 456h1v2h-1zM30 454h1v2h-1zM31 452h1v2h-1zM32 450h1v2h-1zM33 448h1v2h-1zM34 446h1v2h-1zM35 444h1v2h-1zM36 442h1v2h-1zM37 440h1v2h-1zM38 438h1v2h-1zM39 436h1v2h-1zM40 434h1v2h-1zM41 432h1v2h-1zM42 430h1v2h-1zM43 428h1v2h-1zM44 426h1v2h-1zM45 425h1v1h-1zM46 423h1v2h-1zM47 421h1v2h-1zM48 419h1v2h-1zM49 417h1v2h-1zM50 414h1v3h-1zM51 411h1v3h-1zM52 409h1v2h-1zM53 406h1v3h-1zM54 403h1v3h-1zM55 401h1v2h-1zM56 398h1v3h-1zM57 396h1v2h-1zM58 394h1v2h-1zM59 391h1v3h-1zM60 389h1v2h-1zM61 386h1v3h-1zM62 384h1v2h-1zM63 382h1v2h-1zM64 379h1v3h-1zM65 377h1v2h-1zM66 374h1v3h-1zM67 372h1v2h-1zM68 370h1v2h-1zM69 368h1v2h-1zM70 368h2v1h-2zM72 367h6v1h-6zM78 366h8v1h-8zM86 365h8v1h-8zM94 364h2v1h-2zM96 363h3v1h-3zM99 362h2v1h-2zM101 361h3v1h-3zM104 360h3v1h-3zM107 359h2v1h-2zM109 358h3v1h-3zM112 357h3v1h-3zM115 356h2v1h-2zM117 355h3v1h-3zM120 354h3v1h-3zM123 353h11v1h-11zM134 354h1v1h-1zM135 355h1v2h-1zM136 357h1v1h-1zM137 358h1v1h-1zM138 359h1v2h-1zM139 361h1v1h-1zM140 362h1v1h-1zM141 363h1v1h-1zM142 364h1v2h-1zM143 366h1v1h-1zM144 367h1v1h-1zM145 368h1v1h-1zM146 369h2v1h-2zM148 370h1v1h-1zM149 371h2v1h-2zM151 372h2v1h-2zM153 373h1v1h-1zM154 374h2v1h-2zM156 375h2v1h-2zM158 376h3v1h-3zM161 377h4v1h-4zM165 378h10v1h-10zM175 379h16v1h-16zM191 380h15v1h-15zM206 381h16v1h-16zM222 382h16v1h-16zM238 383h9v1h-9zM247 384h3v1h-3zM250 385h3v1h-3zM253 386h3v1h-3zM256 387h3v1h-3zM259 388h18v1h-18zM277 387h6v1h-6zM283 386h4v1h-4zM287 385h4v1h-4zM291 384h3v1h-3zM294 383h1v1h-1zM295 382h1v1h-1zM296 380h1v2h-1zM297 379h1v1h-1zM298 378h1v1h-1zM299 377h1v1h-1zM300 376h1v1h-1zM301 374h1v2h-1zM302 373h1v1h-1zM303 372h1v1h-1zM304 370h1v2h-1zM305 369h1v1h-1zM306 367h1v2h-1zM307 366h1v1h-1zM308 364h1v2h-1zM309 363h1v1h-1zM310 361h1v2h-1zM311 360h1v1h-1zM312 358h1v2h-1zM313 357h1v1h-1zM314 356h1v1h-1zM315 354h1v2h-1zM316 353h1v1h-1zM317 351h1v2h-1zM318 350h1v1h-1zM319 349h2v1h-2zM321 348h1v1h-1zM322 347h1v1h-1zM323 346h2v1h-2zM325 345h1v1h-1zM326 344h2v1h-2zM328 343h4v1h-4zM332 342h6v1h-6zM338 341h5v1h-5zM343 340h4v1h-4zM347 339h4v1h-4zM351 340h2v1h-2zM353 341h2v1h-2zM355 342h2v1h-2zM357 343h2v1h-2zM359 344h2v1h-2zM361 345h1v1h-1zM362 346h2v1h-2zM364 347h3v1h-3zM367 348h6v1h-6zM373 349h3v1h-3zM376 350h2v1h-2zM378 351h2v1h-2zM380 352h2v1h-2zM382 353h2v1h-2zM384 354h2v1h-2zM386 355h2v1h-2zM388 356h2v1h-2zM390 357h2v1h-2zM392 358h2v1h-2zM394 359h2v1h-2zM396 360h1v1h-1zM397 361h1v2h-1zM398 363h1v2h-1zM399 365h1v1h-1zM400 366h1v2h-1zM401 368h1v2h-1zM402 370h1v2h-1zM403 372h1v2h-1zM404 374h1v2h-1zM405 376h1v2h-1zM406 378h1v2h-1zM407 380h1v2h-1zM408 382h1v3h-1zM409 385h1v2h-1zM410 387h1v2h-1zM411 389h1v2h-1zM412 391h1v2h-1zM413 393h1v2h-1zM414 395h1v2h-1zM415 397h1v3h-1zM416 400h1v2h-1zM417 402h1v2h-1zM418 404h1v2h-1zM419 406h1v2h-1zM420 408h1v2h-1zM421 410h1v2h-1zM422 412h1v2h-1zM423 414h1v2h-1zM424 416h1v2h-1zM425 418h1v1h-1zM426 419h1v2h-1zM427 421h1v1h-1zM428 422h1v1h-1zM429 423h1v2h-1zM430 425h1v1h-1zM431 426h1v2h-1zM432 428h1v1h-1zM433 429h1v1h-1zM434 430h1v1h-1zM435 431h1v1h-1zM436 432h2v1h-2zM438 433h1v1h-1zM439 434h1v1h-1zM440 435h2v1h-2zM442 436h2v1h-2zM444 437h2v1h-2zM446 438h2v1h-2zM448 439h2v1h-2zM450 440h2v1h-2zM452 441h2v1h-2zM454 442h2v1h-2zM456 443h2v1h-2zM458 444h7v1h-7zM465 445h16v1h-16zM481 446h13v1h-13zM494 445h5v1h-5zM499 444h5v1h-5zM504 443h6v1h-6zM510 442h9v1h-9zM519 441h8v1h-8zM527 440h3v1h-3zM530 439h3v1h-3zM533 438h3v1h-3zM536 437h3v1h-3zM539 436h3v1h-3zM542 435h4v1h-4zM546 434h3v1h-3zM549 433h4v1h-4zM553 432h4v1h-4zM557 431h4v1h-4zM561 430h2v1h-2zM563 429h2v1h-2zM565 428h2v1h-2zM567 427h2v1h-2zM569 426h2v1h-2zM571 425h2v1h-2zM573 424h1v1h-1zM574 422h1v2h-1zM575 421h1v1h-1zM576 420h1v1h-1zM577 419h1v1h-1zM578 418h1v1h-1zM579 416h1v2h-1zM580 415h1v1h-1zM581 414h1v1h-1zM582 413h1v1h-1zM583 411h1v2h-1zM584 410h1v1h-1zM585 409h1v1h-1zM586 408h1v1h-1zM587 407h1v1h-1zM588 406h1v1h-1zM589 405h1v1h-1zM590 404h2v1h-2zM592 403h1v1h-1zM593 402h1v1h-1zM594 401h1v1h-1zM595 400h5v1h-5zM600 399h6v1h-6zM606 400h1v2h-1zM607 402h1v1h-1zM608 403h1v2h-1zM609 405h1v2h-1zM610 407h1v1h-1zM611 408h1v1h-1zM612 409h1v2h-1zM613 411h1v1h-1zM614 412h1v1h-1zM615 413h1v1h-1zM616 414h1v1h-1zM617 415h1v2h-1zM618 417h1v1h-1zM619 418h1v1h-1zM620 419h1v2h-1zM621 421h1v1h-1zM622 422h1v1h-1zM623 423h1v2h-1zM624 425h1v1h-1zM625 426h1v2h-1zM626 428h1v1h-1zM627 429h1v1h-1zM628 430h1v2h-1zM629 432h2v1h-2zM631 433h2v1h-2zM633 434h2v1h-2zM635 435h2v1h-2zM637 436h2v1h-2zM639 437h1v1h-1zM640 438h1v1h-1zM641 439h1v1h-1zM642 440h1v1h-1zM643 441h2v1h-2zM645 442h1v1h-1zM646 443h1v1h-1zM647 444h1v1h-1zM648 445h1v1h-1zM649 446h1v1h-1zM650 447h1v2h-1zM651 449h1v1h-1zM652 450h1v1h-1zM653 451h1v1h-1zM654 452h1v2h-1zM655 454h1v1h-1zM656 455h1v1h-1zM657 456h1v2h-1zM658 458h1v1h-1zM659 459h1v1h-1zM660 460h1v1h-1zM661 461h1v2h-1zM662 463h1v1h-1zM663 464h1v1h-1zM664 465h1v2h-1zM665 467h1v1h-1zM666 468h1v1h-1zM667 469h1v2h-1zM668 471h1v1h-1zM669 472h1v1h-1zM670 473h1v1h-1zM671 474h1v1h-1zM672 475h1v1h-1zM673 476h1v1h-1zM674 477h1v1h-1zM675 478h1v1h-1zM676 479h1v1h-1zM677 480h1v1h-1zM678 481h1v1h-1zM679 482h1v1h-1zM680 483h1v1h-1zM681 484h1v1h-1zM682 485h1v1h-1zM683 486h2v1h-2zM685 487h2v1h-2zM687 488h2v1h-2zM689 489h2v1h-2zM691 490h2v1h-2zM693 491h2v1h-2zM695 492h3v1h-3zM698 493h3v1h-3zM701 494h3v1h-3zM704 495h3v1h-3zM707 496h3v1h-3zM710 497h4v1h-4zM714 498h3v1h-3zM717 499h4v1h-4zM721 500h3v1h-3zM724 501h4v1h-4zM728 502h4v1h-4zM732 503h5v1h-5zM737 502h6v1h-6zM743 501h4v1h-4zM747 500h1v1h-1zM748 499h2v1h-2zM750 498h1v1h-1zM751 497h1v1h-1zM752 496h2v1h-2zM754 495h1v1h-1zM755 494h1v1h-1zM756 493h1v1h-1zM757 492h1v1h-1zM758 491h1v1h-1zM759 490h2v1h-2zM761 489h1v1h-1zM762 488h1v1h-1zM763 487h1v1h-1zM764 486h8v1h-8zM772 485h8v1h-8zM780 486h2v1h-2zM782 487h2v1h-2zM784 488h2v1h-2zM786 489h2v1h-2zM788 490h3v1h-3zM791 489h4v1h-4zM795 488h2v1h-2zM797 489h1v1h-1zM798 490h1v1h-1zM799 491h1v1h-1zM800 492h1v2h-1zM801 494h1v1h-1zM802 495h1v1h-1zM803 496h1v1h-1zM804 497h1v2h-1zM805 499h1v2h-1zM806 501h1v1h-1zM807 502h1v2h-1zM808 504h1v2h-1zM809 506h1v1h-1zM810 507h1v1h-1zM811 508h1v1h-1zM812 509h1v1h-1zM813 510h1v2h-1zM814 512h1v1h-1zM815 513h1v1h-1zM816 514h1v1h-1zM817 515h2v1h-2zM819 516h2v1h-2zM821 517h2v1h-2zM823 518h2v1h-2zM825 519h2v1h-2zM827 520h3v1h-3zM830 521h2v1h-2zM832 522h3v1h-3zM835 523h2v1h-2zM837 524h5v1h-5zM842 525h7v1h-7zM849 526h20v1h-20zM869 527h6v1h-6zM875 528h5v1h-5zM880 529h2v1h-2zM882 530h2v1h-2zM884 531h4v1h-4zM888 532h4v1h-4zM892 533h10v1h-10zM902 534h11v1h-11zM913 533h8v1h-8zM921 532h5v1h-5zM926 531h3v1h-3zM929 530h4v1h-4zM933 529h3v1h-3zM936 528h4v1h-4zM940 527h6v1h-6zM946 526h6v1h-6zM952 525h4v1h-4zM956 524h3v1h-3zM959 523h3v1h-3zM962 522h3v1h-3zM965 521h5v1h-5zM970 520h6v1h-6zM976 519h23v1h-23zM999 520h9v1h-9zM1008 521h2v1h-2zM1010 522h3v1h-3zM1013 523h3v1h-3zM1016 524h2v1h-2zM1018 525h3v1h-3zM1021 526h3v1h-3zM1024 527h3v1h-3zM1027 528h2v1h-2zM1029 529h3v1h-3zM1032 530h3v1h-3zM1035 531h3v1h-3zM1038 532h4v1h-4zM1042 533h4v1h-4zM1046 534h4v1h-4zM1050 535h3v1h-3zM1053 536h2v1h-2zM1055 537h3v1h-3zM1058 538h3v1h-3zM1061 539h2v1h-2zM1063 540h3v1h-3zM1066 541h2v1h-2zM1068 542h3v1h-3zM1071 543h3v1h-3zM1074 544h2v1h-2zM1076 545h3v1h-3zM1079 544h4v1h-4zM1083 543h4v1h-4zM1087 544h2v1h-2zM1089 545h3v1h-3zM1092 546h11v1h-11zM1103 545h2v1h-2zM1105 544h2v1h-2zM1107 543h2v1h-2zM1109 542h2v1h-2zM1111 541h1v1h-1zM1112 540h1v1h-1zM1113 539h1v1h-1zM1114 538h2v1h-2zM1116 537h1v1h-1zM1117 536h1v1h-1zM1118 535h1v1h-1zM1119 534h1v1h-1zM1120 533h1v1h-1zM1121 532h1v1h-1zM1122 531h1v1h-1zM1123 529h1v2h-1zM1124 528h1v1h-1zM1125 527h1v1h-1zM1126 526h1v1h-1zM1127 525h1v1h-1zM1128 523h1v2h-1zM1129 521h1v2h-1zM1130 520h1v1h-1zM1131 518h1v2h-1zM1132 517h1v1h-1zM1133 515h1v2h-1zM1134 513h1v2h-1zM1135 512h1v1h-1zM1136 511h1v1h-1zM1137 509h1v2h-1zM1138 508h1v1h-1zM1139 507h1v1h-1zM1140 505h1v2h-1zM1141 504h1v1h-1zM1142 503h1v1h-1zM1143 501h1v2h-1zM1144 500h1v1h-1zM1145 499h1v1h-1zM1146 497h1v2h-1zM1147 496h1v1h-1zM1148 494h1v2h-1zM1149 493h1v1h-1zM1150 491h1v2h-1zM1151 490h1v1h-1zM1152 488h1v2h-1zM1153 487h1v1h-1zM1154 485h1v2h-1zM1155 484h1v1h-1zM1156 482h1v2h-1zM1157 481h1v1h-1zM1158 479h1v2h-1zM1159 478h1v1h-1zM1160 476h1v2h-1zM1161 475h1v1h-1zM1162 473h1v2h-1zM1163 471h1v2h-1zM1164 470h1v1h-1zM1165 468h1v2h-1zM1166 466h1v2h-1zM1167 465h1v1h-1zM1168 463h1v2h-1zM1169 462h1v1h-1zM1170 460h1v2h-1zM1171 458h1v2h-1zM1172 457h1v1h-1zM1173 455h1v2h-1zM1174 453h1v2h-1zM1175 452h1v1h-1zM1176 450h1v2h-1zM1177 448h1v2h-1zM1178 447h1v1h-1zM1179 445h1v2h-1zM1180 443h1v2h-1zM1181 442h1v1h-1zM1182 440h1v2h-1zM1183 439h1v1h-1zM1184 437h1v2h-1zM1185 435h1v2h-1zM1186 434h1v1h-1zM1187 432h1v2h-1zM1188 430h1v2h-1zM1189 429h1v1h-1zM1190 427h1v2h-1zM1191 426h1v1h-1zM1192 425h1v1h-1zM1193 423h1v2h-1zM1194 422h1v1h-1zM1195 421h1v1h-1zM1196 419h1v2h-1zM1197 418h1v1h-1zM1198 417h1v1h-1zM1199 415h1v2h-1zM1200 414h1v1h-1zM1201 413h1v1h-1zM1202 411h1v2h-1zM1203 410h1v1h-1zM1204 408h1v2h-1zM1205 407h1v1h-1zM1206 405h1v2h-1zM1207 403h1v2h-1zM1208 402h1v1h-1zM1209 400h1v2h-1zM1210 399h1v1h-1zM1211 397h1v2h-1zM1212 395h1v2h-1zM1213 394h1v1h-1zM1214 392h1v2h-1zM1215 391h1v1h-1zM1216 390h1v1h-1zM1217 389h1v1h-1zM1218 388h1v1h-1zM1219 387h1v1h-1zM1220 386h1v1h-1zM1221 385h1v1h-1zM1222 384h1v1h-1zM1223 383h1v1h-1zM1224 382h1v1h-1zM1225 381h1v1h-1zM1226 380h1v1h-1zM1227 379h1v1h-1zM1228 378h1v1h-1zM1229 377h1v1h-1zM1230 376h3v1h-3zM1233 377h5v1h-5zM1238 378h3v1h-3zM1241 379h2v1h-2zM1243 380h1v1h-1zM1244 381h1v1h-1zM1245 382h2v1h-2zM1247 383h1v1h-1zM1248 384h1v1h-1zM1249 385h2v1h-2zM1251 386h1v1h-1zM1252 387h1v1h-1zM1253 388h2v1h-2zM1255 389h1v1h-1zM1256 390h1v1h-1zM1257 391h2v1h-2zM1259 392h1v1h-1zM1260 393h1v1h-1zM1261 394h1v1h-1zM1262 395h2v1h-2zM1264 396h1v1h-1zM1265 397h1v1h-1zM1266 398h1v1h-1zM1267 399h2v1h-2zM1269 400h1v1h-1zM1270 401h2v1h-2zM1272 402h2v1h-2zM1274 403h2v1h-2zM1276 404h3v1h-3zM1279 403h2v1h-2zM1281 402h3v1h-3zM1284 401h2v1h-2zM1286 400h2v1h-2zM1288 399h1v1h-1zM1289 398h1v1h-1zM1290 397h1v1h-1zM1291 396h1v1h-1zM1292 395h1v1h-1zM1293 394h1v1h-1zM1294 392h1v2h-1zM1295 391h1v1h-1zM1296 390h1v1h-1zM1297 389h1v1h-1zM1298 388h1v1h-1zM1299 387h1v1h-1zM1300 386h1v1h-1zM1301 385h1v1h-1zM1302 384h1v1h-1zM1303 383h1v1h-1zM1304 382h1v1h-1zM1305 381h1v1h-1zM1306 380h1v1h-1zM1307 379h1v1h-1zM1308 378h1v1h-1zM1309 377h1v1h-1zM1310 376h1v1h-1zM1311 375h1v1h-1zM1312 374h1v1h-1zM1313 373h1v1h-1zM1314 372h1v1h-1zM1315 371h1v1h-1zM1316 370h1v1h-1zM1317 369h1v1h-1zM1318 368h1v1h-1zM1319 366h1v2h-1zM1320 365h1v1h-1zM1321 364h1v1h-1zM1322 363h1v1h-1zM1323 362h1v1h-1zM1324 361h1v1h-1zM1325 360h1v1h-1zM1326 358h1v2h-1zM1327 357h1v1h-1zM1328 356h1v1h-1zM1329 355h1v1h-1zM1330 354h1v1h-1zM1331 353h1v1h-1zM1332 351h1v2h-1zM1333 350h1v1h-1zM1334 349h1v1h-1zM1335 348h1v1h-1zM1336 347h1v1h-1zM1337 346h1v1h-1zM1338 345h1v1h-1zM1339 343h1v2h-1zM1340 342h1v1h-1zM1341 341h1v1h-1zM1342 340h2v1h-2zM1344 339h2v1h-2zM1346 338h3v1h-3zM1349 337h2v1h-2zM1351 336h1v1h-1zM1352 335h1v1h-1zM1353 333h1v2h-1zM1354 332h1v1h-1zM1355 331h1v1h-1zM1356 330h1v1h-1zM1357 329h1v1h-1zM1358 327h1v2h-1zM1359 326h1v1h-1zM1360 325h1v1h-1zM1361 323h1v2h-1zM1362 321h1v2h-1zM1363 318h1v3h-1zM1364 315h1v3h-1zM1365 313h1v2h-1zM1366 310h1v3h-1zM1367 307h1v3h-1zM1368 305h1v2h-1zM1369 302h1v3h-1zM1370 299h1v3h-1zM1371 296h1v3h-1zM1372 294h1v2h-1zM1373 291h1v3h-1zM1374 288h1v3h-1zM1375 285h1v3h-1zM1376 282h1v3h-1zM1377 280h1v2h-1zM1378 277h1v3h-1zM1379 274h1v3h-1zM1380 271h1v3h-1zM1381 268h1v3h-1zM1382 266h1v2h-1zM1383 263h1v3h-1zM1384 260h1v3h-1zM1385 257h1v3h-1zM1386 255h1v2h-1zM1387 252h1v3h-1zM1388 249h1v3h-1zM1389 247h1v2h-1zM1390 245h1v2h-1zM1391 243h1v2h-1zM1392 241h1v2h-1zM1393 239h1v2h-1zM1394 237h1v2h-1zM1395 235h1v2h-1zM1396 233h1v2h-1zM1397 231h1v2h-1zM1398 229h1v2h-1zM1399 227h1v2h-1zM1400 225h1v2h-1zM1401 224h1v1h-1zM1402 222h1v2h-1zM1403 220h1v2h-1zM1404 219h1v1h-1zM1405 217h1v2h-1zM1406 216h1v1h-1zM1407 214h1v2h-1zM1408 212h1v2h-1zM1409 211h1v1h-1zM1410 209h1v2h-1zM1411 208h1v1h-1zM1412 207h1v1h-1zM1413 206h1v1h-1zM1414 205h1v1h-1zM1415 204h1v1h-1zM1416 203h1v1h-1zM1417 202h2v1h-2zM1419 201h1v1h-1zM1420 200h1v1h-1zM1421 199h1v1h-1zM1422 198h1v1h-1zM1423 197h1v1h-1zM1424 196h1v1h-1zM1425 195h2v1h-2zM1427 194h2v1h-2zM1429 193h1v1h-1zM1430 192h2v1h-2zM1432 191h1v1h-1zM1433 190h2v1h-2zM1435 189h2v1h-2zM1437 188h1v1h-1z" fill="#36AE6E"/>
<rect x="1160.5" y="84.5" width="73" height="24" fill="#fff" stroke="#FF0000" stroke-width="1"/>
<text x="1162.4" y="105.1" font-size="22.6" fill="#FF0000" stroke="#FF0000" stroke-width="0.55" textLength="70" lengthAdjust="spacingAndGlyphs" style="font-family:'Liberation Sans',sans-serif;">134.225</text>
<rect x="1286.5" y="69.5" width="61" height="18" fill="#fff" stroke="#FF0000" stroke-width="1"/>
<text x="1288.6" y="85" font-size="16.2" fill="#FF0000" stroke="#FF0000" stroke-width="0.3" textLength="57.6" lengthAdjust="spacingAndGlyphs" style="font-family:'Liberation Sans',sans-serif;">134.545</text>
<rect x="1302.5" y="148.5" width="61" height="18" fill="#fff" stroke="#FF0000" stroke-width="1"/>
<text x="1304.6" y="164" font-size="16.2" fill="#FF0000" stroke="#FF0000" stroke-width="0.3" textLength="57.6" lengthAdjust="spacingAndGlyphs" style="font-family:'Liberation Sans',sans-serif;">133.154</text>
<rect x="734.5" y="530.5" width="61" height="18" fill="#fff" stroke="#FF0000" stroke-width="1"/>
<text x="736.6" y="546" font-size="16.2" fill="#FF0000" stroke="#FF0000" stroke-width="0.3" textLength="57.6" lengthAdjust="spacingAndGlyphs" style="font-family:'Liberation Sans',sans-serif;">126.354</text>
<rect x="1150" y="96" width="10" height="1" fill="#FF0000"/>
<rect x="1364" y="157" width="10" height="1" fill="#FF0000"/>
<rect x="796" y="539" width="9" height="1" fill="#FF0000"/>
<rect x="1351" y="78" width="6" height="1" fill="#FF0000"/>
<rect x="1348.5" y="76.5" width="2" height="3" fill="#fff" stroke="#FF0000" stroke-width="1"/>
<rect x="5" y="326" width="1" height="18" fill="#000"/>
<rect x="3" y="327" width="5" height="9" fill="#000"/>
<rect x="13" y="314" width="1" height="43" fill="#000"/>
<rect x="11" y="319" width="5" height="17" fill="#000"/>
<rect x="12" y="320" width="3" height="15" fill="#fff"/>
<rect x="21" y="308" width="1" height="22" fill="#000"/>
<rect x="19" y="319" width="5" height="11" fill="#000"/>
<rect x="29" y="325" width="1" height="21" fill="#000"/>
<rect x="27" y="328" width="5" height="14" fill="#000"/>
<rect x="37" y="315" width="1" height="38" fill="#000"/>
<rect x="35" y="324" width="5" height="18" fill="#000"/>
<rect x="36" y="325" width="3" height="16" fill="#fff"/>
<rect x="45" y="321" width="1" height="9" fill="#000"/>
<rect x="43" y="323" width="5" height="1" fill="#000"/>
<rect x="53" y="323" width="1" height="7" fill="#000"/>
<rect x="51" y="323" width="5" height="7" fill="#000"/>
<rect x="61" y="329" width="1" height="15" fill="#000"/>
<rect x="59" y="329" width="5" height="7" fill="#000"/>
<rect x="69" y="318" width="1" height="19" fill="#000"/>
<rect x="67" y="324" width="5" height="12" fill="#000"/>
<rect x="68" y="325" width="3" height="10" fill="#fff"/>
<rect x="77" y="323" width="1" height="17" fill="#000"/>
<rect x="75" y="324" width="5" height="16" fill="#000"/>
<rect x="85" y="330" width="1" height="23" fill="#000"/>
<rect x="83" y="331" width="5" height="8" fill="#000"/>
<rect x="84" y="332" width="3" height="6" fill="#fff"/>
<rect x="93" y="324" width="1" height="8" fill="#000"/>
<rect x="91" y="328" width="5" height="3" fill="#000"/>
<rect x="92" y="329" width="3" height="1" fill="#fff"/>
<rect x="101" y="325" width="1" height="8" fill="#000"/>
<rect x="99" y="328" width="5" height="1" fill="#000"/>
<rect x="109" y="323" width="1" height="9" fill="#000"/>
<rect x="107" y="328" width="5" height="2" fill="#000"/>
<rect x="117" y="324" width="1" height="8" fill="#000"/>
<rect x="115" y="328" width="5" height="2" fill="#000"/>
<rect x="125" y="329" width="1" height="13" fill="#000"/>
<rect x="123" y="329" width="5" height="9" fill="#000"/>
<rect x="133" y="328" width="1" height="20" fill="#000"/>
<rect x="131" y="336" width="5" height="3" fill="#000"/>
<rect x="132" y="337" width="3" height="1" fill="#fff"/>
<rect x="141" y="314" width="1" height="99" fill="#000"/>
<rect x="139" y="336" width="5" height="48" fill="#000"/>
<rect x="149" y="360" width="1" height="29" fill="#000"/>
<rect x="147" y="378" width="5" height="5" fill="#000"/>
<rect x="148" y="379" width="3" height="3" fill="#fff"/>
<rect x="157" y="374" width="1" height="32" fill="#000"/>
<rect x="155" y="377" width="5" height="10" fill="#000"/>
<rect x="165" y="348" width="1" height="38" fill="#000"/>
<rect x="163" y="352" width="5" height="34" fill="#000"/>
<rect x="164" y="353" width="3" height="32" fill="#fff"/>
<rect x="173" y="334" width="1" height="28" fill="#000"/>
<rect x="171" y="335" width="5" height="17" fill="#000"/>
<rect x="172" y="336" width="3" height="15" fill="#fff"/>
<rect x="181" y="310" width="1" height="41" fill="#000"/>
<rect x="179" y="312" width="5" height="23" fill="#000"/>
<rect x="180" y="313" width="3" height="21" fill="#fff"/>
<rect x="189" y="304" width="1" height="33" fill="#000"/>
<rect x="187" y="312" width="5" height="23" fill="#000"/>
<rect x="197" y="315" width="1" height="20" fill="#000"/>
<rect x="195" y="318" width="5" height="17" fill="#000"/>
<rect x="196" y="319" width="3" height="15" fill="#fff"/>
<rect x="205" y="289" width="1" height="35" fill="#000"/>
<rect x="203" y="301" width="5" height="16" fill="#000"/>
<rect x="204" y="302" width="3" height="14" fill="#fff"/>
<rect x="213" y="295" width="1" height="22" fill="#000"/>
<rect x="211" y="301" width="5" height="5" fill="#000"/>
<rect x="221" y="302" width="1" height="20" fill="#000"/>
<rect x="219" y="306" width="5" height="6" fill="#000"/>
<rect x="229" y="295" width="1" height="31" fill="#000"/>
<rect x="227" y="311" width="5" height="3" fill="#000"/>
<rect x="237" y="302" width="1" height="17" fill="#000"/>
<rect x="235" y="302" width="5" height="12" fill="#000"/>
<rect x="236" y="303" width="3" height="10" fill="#fff"/>
<rect x="245" y="291" width="1" height="9" fill="#000"/>
<rect x="243" y="293" width="5" height="3" fill="#000"/>
<rect x="244" y="294" width="3" height="1" fill="#fff"/>
<rect x="253" y="275" width="1" height="23" fill="#000"/>
<rect x="251" y="281" width="5" height="14" fill="#000"/>
<rect x="252" y="282" width="3" height="12" fill="#fff"/>
<rect x="261" y="259" width="1" height="27" fill="#000"/>
<rect x="259" y="268" width="5" height="13" fill="#000"/>
<rect x="260" y="269" width="3" height="11" fill="#fff"/>
<rect x="269" y="265" width="1" height="15" fill="#000"/>
<rect x="267" y="268" width="5" height="10" fill="#000"/>
<rect x="277" y="277" width="1" height="52" fill="#000"/>
<rect x="275" y="277" width="5" height="36" fill="#000"/>
<rect x="285" y="310" width="1" height="19" fill="#000"/>
<rect x="283" y="313" width="5" height="10" fill="#000"/>
<rect x="293" y="302" width="1" height="24" fill="#000"/>
<rect x="291" y="313" width="5" height="10" fill="#000"/>
<rect x="292" y="314" width="3" height="8" fill="#fff"/>
<rect x="301" y="308" width="1" height="39" fill="#000"/>
<rect x="299" y="313" width="5" height="7" fill="#000"/>
<rect x="309" y="304" width="1" height="19" fill="#000"/>
<rect x="307" y="316" width="5" height="4" fill="#000"/>
<rect x="308" y="317" width="3" height="2" fill="#fff"/>
<rect x="317" y="314" width="1" height="29" fill="#000"/>
<rect x="315" y="315" width="5" height="16" fill="#000"/>
<rect x="325" y="309" width="1" height="31" fill="#000"/>
<rect x="323" y="323" width="5" height="8" fill="#000"/>
<rect x="324" y="324" width="3" height="6" fill="#fff"/>
<rect x="333" y="310" width="1" height="21" fill="#000"/>
<rect x="331" y="314" width="5" height="8" fill="#000"/>
<rect x="332" y="315" width="3" height="6" fill="#fff"/>
<rect x="341" y="308" width="1" height="12" fill="#000"/>
<rect x="339" y="314" width="5" height="1" fill="#000"/>
<rect x="349" y="308" width="1" height="15" fill="#000"/>
<rect x="347" y="313" width="5" height="2" fill="#000"/>
<rect x="357" y="307" width="1" height="35" fill="#000"/>
<rect x="355" y="313" width="5" height="24" fill="#000"/>
<rect x="365" y="330" width="1" height="29" fill="#000"/>
<rect x="363" y="336" width="5" height="10" fill="#000"/>
<rect x="373" y="289" width="1" height="60" fill="#000"/>
<rect x="371" y="323" width="5" height="22" fill="#000"/>
<rect x="372" y="324" width="3" height="20" fill="#fff"/>
<rect x="381" y="322" width="1" height="45" fill="#000"/>
<rect x="379" y="323" width="5" height="16" fill="#000"/>
<rect x="389" y="331" width="1" height="15" fill="#000"/>
<rect x="387" y="338" width="5" height="5" fill="#000"/>
<rect x="397" y="340" width="1" height="23" fill="#000"/>
<rect x="395" y="343" width="5" height="2" fill="#000"/>
<rect x="405" y="343" width="1" height="72" fill="#000"/>
<rect x="403" y="344" width="5" height="58" fill="#000"/>
<rect x="413" y="398" width="1" height="27" fill="#000"/>
<rect x="411" y="400" width="5" height="18" fill="#000"/>
<rect x="421" y="405" width="1" height="69" fill="#000"/>
<rect x="419" y="418" width="5" height="24" fill="#000"/>
<rect x="429" y="422" width="1" height="22" fill="#000"/>
<rect x="427" y="422" width="5" height="20" fill="#000"/>
<rect x="428" y="423" width="3" height="18" fill="#fff"/>
<rect x="437" y="412" width="1" height="24" fill="#000"/>
<rect x="435" y="413" width="5" height="9" fill="#000"/>
<rect x="436" y="414" width="3" height="7" fill="#fff"/>
<rect x="445" y="371" width="1" height="58" fill="#000"/>
<rect x="443" y="386" width="5" height="29" fill="#000"/>
<rect x="444" y="387" width="3" height="27" fill="#fff"/>
<rect x="453" y="384" width="1" height="37" fill="#000"/>
<rect x="451" y="386" width="5" height="16" fill="#000"/>
<rect x="461" y="386" width="1" height="22" fill="#000"/>
<rect x="459" y="388" width="5" height="14" fill="#000"/>
<rect x="460" y="389" width="3" height="12" fill="#fff"/>
<rect x="469" y="366" width="1" height="34" fill="#000"/>
<rect x="467" y="378" width="5" height="10" fill="#000"/>
<rect x="468" y="379" width="3" height="8" fill="#fff"/>
<rect x="477" y="367" width="1" height="13" fill="#000"/>
<rect x="475" y="372" width="5" height="7" fill="#000"/>
<rect x="476" y="373" width="3" height="5" fill="#fff"/>
<rect x="485" y="363" width="1" height="9" fill="#000"/>
<rect x="483" y="368" width="5" height="1" fill="#000"/>
<rect x="493" y="355" width="1" height="53" fill="#000"/>
<rect x="491" y="368" width="5" height="28" fill="#000"/>
<rect x="501" y="369" width="1" height="35" fill="#000"/>
<rect x="499" y="371" width="5" height="25" fill="#000"/>
<rect x="500" y="372" width="3" height="23" fill="#fff"/>
<rect x="509" y="363" width="1" height="15" fill="#000"/>
<rect x="507" y="364" width="5" height="7" fill="#000"/>
<rect x="508" y="365" width="3" height="5" fill="#fff"/>
<rect x="517" y="356" width="1" height="37" fill="#000"/>
<rect x="515" y="363" width="5" height="21" fill="#000"/>
<rect x="525" y="368" width="1" height="22" fill="#000"/>
<rect x="523" y="383" width="5" height="2" fill="#000"/>
<rect x="533" y="383" width="1" height="17" fill="#000"/>
<rect x="531" y="385" width="5" height="10" fill="#000"/>
<rect x="541" y="366" width="1" height="36" fill="#000"/>
<rect x="539" y="372" width="5" height="24" fill="#000"/>
<rect x="540" y="373" width="3" height="22" fill="#fff"/>
<rect x="549" y="367" width="1" height="13" fill="#000"/>
<rect x="547" y="369" width="5" height="3" fill="#000"/>
<rect x="548" y="370" width="3" height="1" fill="#fff"/>
<rect x="557" y="360" width="1" height="20" fill="#000"/>
<rect x="555" y="369" width="5" height="5" fill="#000"/>
<rect x="565" y="347" width="1" height="41" fill="#000"/>
<rect x="563" y="373" width="5" height="1" fill="#000"/>
<rect x="573" y="365" width="1" height="17" fill="#000"/>
<rect x="571" y="371" width="5" height="3" fill="#000"/>
<rect x="572" y="372" width="3" height="1" fill="#fff"/>
<rect x="581" y="361" width="1" height="12" fill="#000"/>
<rect x="579" y="368" width="5" height="3" fill="#000"/>
<rect x="580" y="369" width="3" height="1" fill="#fff"/>
<rect x="589" y="365" width="1" height="23" fill="#000"/>
<rect x="587" y="367" width="5" height="17" fill="#000"/>
<rect x="597" y="372" width="1" height="22" fill="#000"/>
<rect x="595" y="373" width="5" height="11" fill="#000"/>
<rect x="596" y="374" width="3" height="9" fill="#fff"/>
<rect x="605" y="371" width="1" height="18" fill="#000"/>
<rect x="603" y="373" width="5" height="12" fill="#000"/>
<rect x="613" y="384" width="1" height="57" fill="#000"/>
<rect x="611" y="385" width="5" height="51" fill="#000"/>
<rect x="621" y="428" width="1" height="20" fill="#000"/>
<rect x="619" y="433" width="5" height="3" fill="#000"/>
<rect x="620" y="434" width="3" height="1" fill="#fff"/>
<rect x="629" y="421" width="1" height="32" fill="#000"/>
<rect x="627" y="433" width="5" height="19" fill="#000"/>
<rect x="637" y="399" width="1" height="55" fill="#000"/>
<rect x="635" y="406" width="5" height="48" fill="#000"/>
<rect x="636" y="407" width="3" height="46" fill="#fff"/>
<rect x="645" y="394" width="1" height="55" fill="#000"/>
<rect x="643" y="405" width="5" height="29" fill="#000"/>
<rect x="653" y="434" width="1" height="38" fill="#000"/>
<rect x="651" y="434" width="5" height="17" fill="#000"/>
<rect x="661" y="449" width="1" height="54" fill="#000"/>
<rect x="659" y="451" width="5" height="17" fill="#000"/>
<rect x="669" y="461" width="1" height="15" fill="#000"/>
<rect x="667" y="464" width="5" height="4" fill="#000"/>
<rect x="668" y="465" width="3" height="2" fill="#fff"/>
<rect x="677" y="450" width="1" height="16" fill="#000"/>
<rect x="675" y="456" width="5" height="8" fill="#000"/>
<rect x="676" y="457" width="3" height="6" fill="#fff"/>
<rect x="685" y="435" width="1" height="40" fill="#000"/>
<rect x="683" y="456" width="5" height="13" fill="#000"/>
<rect x="693" y="441" width="1" height="32" fill="#000"/>
<rect x="691" y="451" width="5" height="17" fill="#000"/>
<rect x="692" y="452" width="3" height="15" fill="#fff"/>
<rect x="701" y="431" width="1" height="25" fill="#000"/>
<rect x="699" y="445" width="5" height="6" fill="#000"/>
<rect x="700" y="446" width="3" height="4" fill="#fff"/>
<rect x="709" y="433" width="1" height="30" fill="#000"/>
<rect x="707" y="444" width="5" height="12" fill="#000"/>
<rect x="717" y="453" width="1" height="18" fill="#000"/>
<rect x="715" y="455" width="5" height="4" fill="#000"/>
<rect x="725" y="450" width="1" height="7" fill="#000"/>
<rect x="723" y="450" width="5" height="5" fill="#000"/>
<rect x="733" y="450" width="1" height="46" fill="#000"/>
<rect x="731" y="454" width="5" height="29" fill="#000"/>
<rect x="741" y="451" width="1" height="35" fill="#000"/>
<rect x="739" y="470" width="5" height="12" fill="#000"/>
<rect x="740" y="471" width="3" height="10" fill="#fff"/>
<rect x="749" y="466" width="1" height="18" fill="#000"/>
<rect x="747" y="469" width="5" height="2" fill="#000"/>
<rect x="757" y="453" width="1" height="25" fill="#000"/>
<rect x="755" y="458" width="5" height="11" fill="#000"/>
<rect x="756" y="459" width="3" height="9" fill="#fff"/>
<rect x="765" y="450" width="1" height="13" fill="#000"/>
<rect x="763" y="454" width="5" height="4" fill="#000"/>
<rect x="764" y="455" width="3" height="2" fill="#fff"/>
<rect x="773" y="451" width="1" height="12" fill="#000"/>
<rect x="771" y="454" width="5" height="3" fill="#000"/>
<rect x="781" y="443" width="1" height="25" fill="#000"/>
<rect x="779" y="457" width="5" height="3" fill="#000"/>
<rect x="789" y="460" width="1" height="32" fill="#000"/>
<rect x="787" y="460" width="5" height="28" fill="#000"/>
<rect x="797" y="474" width="1" height="26" fill="#000"/>
<rect x="795" y="483" width="5" height="5" fill="#000"/>
<rect x="796" y="484" width="3" height="3" fill="#fff"/>
<rect x="805" y="477" width="1" height="63" fill="#000"/>
<rect x="803" y="482" width="5" height="48" fill="#000"/>
<rect x="813" y="511" width="1" height="22" fill="#000"/>
<rect x="811" y="511" width="5" height="17" fill="#000"/>
<rect x="812" y="512" width="3" height="15" fill="#fff"/>
<rect x="821" y="508" width="1" height="13" fill="#000"/>
<rect x="819" y="511" width="5" height="7" fill="#000"/>
<rect x="829" y="492" width="1" height="32" fill="#000"/>
<rect x="827" y="500" width="5" height="20" fill="#000"/>
<rect x="828" y="501" width="3" height="18" fill="#fff"/>
<rect x="837" y="487" width="1" height="27" fill="#000"/>
<rect x="835" y="497" width="5" height="1" fill="#000"/>
<rect x="845" y="493" width="1" height="20" fill="#000"/>
<rect x="843" y="497" width="5" height="8" fill="#000"/>
<rect x="853" y="479" width="1" height="37" fill="#000"/>
<rect x="851" y="486" width="5" height="19" fill="#000"/>
<rect x="852" y="487" width="3" height="17" fill="#fff"/>
<rect x="861" y="476" width="1" height="16" fill="#000"/>
<rect x="859" y="486" width="5" height="1" fill="#000"/>
<rect x="869" y="485" width="1" height="13" fill="#000"/>
<rect x="867" y="486" width="5" height="10" fill="#000"/>
<rect x="877" y="471" width="1" height="25" fill="#000"/>
<rect x="875" y="482" width="5" height="14" fill="#000"/>
<rect x="876" y="483" width="3" height="12" fill="#fff"/>
<rect x="885" y="478" width="1" height="52" fill="#000"/>
<rect x="883" y="482" width="5" height="44" fill="#000"/>
<rect x="893" y="495" width="1" height="34" fill="#000"/>
<rect x="891" y="502" width="5" height="24" fill="#000"/>
<rect x="892" y="503" width="3" height="22" fill="#fff"/>
<rect x="901" y="480" width="1" height="31" fill="#000"/>
<rect x="899" y="491" width="5" height="11" fill="#000"/>
<rect x="900" y="492" width="3" height="9" fill="#fff"/>
<rect x="909" y="482" width="1" height="20" fill="#000"/>
<rect x="907" y="491" width="5" height="7" fill="#000"/>
<rect x="917" y="494" width="1" height="11" fill="#000"/>
<rect x="915" y="497" width="5" height="1" fill="#000"/>
<rect x="925" y="493" width="1" height="30" fill="#000"/>
<rect x="923" y="499" width="5" height="15" fill="#000"/>
<rect x="933" y="492" width="1" height="28" fill="#000"/>
<rect x="931" y="496" width="5" height="18" fill="#000"/>
<rect x="932" y="497" width="3" height="16" fill="#fff"/>
<rect x="941" y="493" width="1" height="19" fill="#000"/>
<rect x="939" y="496" width="5" height="12" fill="#000"/>
<rect x="949" y="490" width="1" height="25" fill="#000"/>
<rect x="947" y="496" width="5" height="12" fill="#000"/>
<rect x="948" y="497" width="3" height="10" fill="#fff"/>
<rect x="957" y="493" width="1" height="7" fill="#000"/>
<rect x="955" y="495" width="5" height="3" fill="#000"/>
<rect x="965" y="484" width="1" height="11" fill="#000"/>
<rect x="963" y="489" width="5" height="5" fill="#000"/>
<rect x="964" y="490" width="3" height="3" fill="#fff"/>
<rect x="973" y="486" width="1" height="26" fill="#000"/>
<rect x="971" y="490" width="5" height="15" fill="#000"/>
<rect x="981" y="482" width="1" height="26" fill="#000"/>
<rect x="979" y="483" width="5" height="22" fill="#000"/>
<rect x="980" y="484" width="3" height="20" fill="#fff"/>
<rect x="989" y="479" width="1" height="11" fill="#000"/>
<rect x="987" y="481" width="5" height="3" fill="#000"/>
<rect x="988" y="482" width="3" height="1" fill="#fff"/>
<rect x="997" y="457" width="1" height="23" fill="#000"/>
<rect x="995" y="473" width="5" height="7" fill="#000"/>
<rect x="996" y="474" width="3" height="5" fill="#fff"/>
<rect x="1005" y="469" width="1" height="7" fill="#000"/>
<rect x="1003" y="472" width="5" height="2" fill="#000"/>
<rect x="1013" y="455" width="1" height="26" fill="#000"/>
<rect x="1011" y="460" width="5" height="13" fill="#000"/>
<rect x="1012" y="461" width="3" height="11" fill="#fff"/>
<rect x="1021" y="428" width="1" height="34" fill="#000"/>
<rect x="1019" y="442" width="5" height="19" fill="#000"/>
<rect x="1020" y="443" width="3" height="17" fill="#fff"/>
<rect x="1029" y="438" width="1" height="31" fill="#000"/>
<rect x="1027" y="443" width="5" height="18" fill="#000"/>
<rect x="1037" y="434" width="1" height="33" fill="#000"/>
<rect x="1035" y="438" width="5" height="23" fill="#000"/>
<rect x="1036" y="439" width="3" height="21" fill="#fff"/>
<rect x="1045" y="397" width="1" height="41" fill="#000"/>
<rect x="1043" y="417" width="5" height="21" fill="#000"/>
<rect x="1044" y="418" width="3" height="19" fill="#fff"/>
<rect x="1053" y="404" width="1" height="18" fill="#000"/>
<rect x="1051" y="408" width="5" height="9" fill="#000"/>
<rect x="1052" y="409" width="3" height="7" fill="#fff"/>
<rect x="1061" y="404" width="1" height="15" fill="#000"/>
<rect x="1059" y="406" width="5" height="2" fill="#000"/>
<rect x="1069" y="381" width="1" height="24" fill="#000"/>
<rect x="1067" y="383" width="5" height="22" fill="#000"/>
<rect x="1068" y="384" width="3" height="20" fill="#fff"/>
<rect x="1077" y="360" width="1" height="26" fill="#000"/>
<rect x="1075" y="368" width="5" height="16" fill="#000"/>
<rect x="1076" y="369" width="3" height="14" fill="#fff"/>
<rect x="1085" y="356" width="1" height="23" fill="#000"/>
<rect x="1083" y="360" width="5" height="8" fill="#000"/>
<rect x="1084" y="361" width="3" height="6" fill="#fff"/>
<rect x="1093" y="327" width="1" height="53" fill="#000"/>
<rect x="1091" y="329" width="5" height="31" fill="#000"/>
<rect x="1092" y="330" width="3" height="29" fill="#fff"/>
<rect x="1101" y="324" width="1" height="14" fill="#000"/>
<rect x="1099" y="325" width="5" height="4" fill="#000"/>
<rect x="1100" y="326" width="3" height="2" fill="#fff"/>
<rect x="1109" y="321" width="1" height="10" fill="#000"/>
<rect x="1107" y="326" width="5" height="3" fill="#000"/>
<rect x="1117" y="323" width="1" height="19" fill="#000"/>
<rect x="1115" y="327" width="5" height="4" fill="#000"/>
<rect x="1125" y="330" width="1" height="19" fill="#000"/>
<rect x="1123" y="330" width="5" height="12" fill="#000"/>
<rect x="1133" y="338" width="1" height="20" fill="#000"/>
<rect x="1131" y="342" width="5" height="12" fill="#000"/>
<rect x="1141" y="333" width="1" height="30" fill="#000"/>
<rect x="1139" y="344" width="5" height="10" fill="#000"/>
<rect x="1140" y="345" width="3" height="8" fill="#fff"/>
<rect x="1149" y="341" width="1" height="11" fill="#000"/>
<rect x="1147" y="343" width="5" height="1" fill="#000"/>
<rect x="1157" y="337" width="1" height="11" fill="#000"/>
<rect x="1155" y="338" width="5" height="6" fill="#000"/>
<rect x="1156" y="339" width="3" height="4" fill="#fff"/>
<rect x="1165" y="332" width="1" height="21" fill="#000"/>
<rect x="1163" y="338" width="5" height="7" fill="#000"/>
<rect x="1173" y="332" width="1" height="15" fill="#000"/>
<rect x="1171" y="342" width="5" height="3" fill="#000"/>
<rect x="1172" y="343" width="3" height="1" fill="#fff"/>
<rect x="1181" y="327" width="1" height="16" fill="#000"/>
<rect x="1179" y="327" width="5" height="15" fill="#000"/>
<rect x="1180" y="328" width="3" height="13" fill="#fff"/>
<rect x="1189" y="280" width="1" height="52" fill="#000"/>
<rect x="1187" y="281" width="5" height="46" fill="#000"/>
<rect x="1188" y="282" width="3" height="44" fill="#fff"/>
<rect x="1197" y="280" width="1" height="11" fill="#000"/>
<rect x="1195" y="281" width="5" height="8" fill="#000"/>
<rect x="1205" y="288" width="1" height="8" fill="#000"/>
<rect x="1203" y="289" width="5" height="6" fill="#000"/>
<rect x="1213" y="287" width="1" height="23" fill="#000"/>
<rect x="1211" y="293" width="5" height="15" fill="#000"/>
<rect x="1221" y="288" width="1" height="23" fill="#000"/>
<rect x="1219" y="291" width="5" height="17" fill="#000"/>
<rect x="1220" y="292" width="3" height="15" fill="#fff"/>
<rect x="1229" y="288" width="1" height="13" fill="#000"/>
<rect x="1227" y="291" width="5" height="8" fill="#000"/>
<rect x="1237" y="240" width="1" height="58" fill="#000"/>
<rect x="1235" y="247" width="5" height="51" fill="#000"/>
<rect x="1236" y="248" width="3" height="49" fill="#fff"/>
<rect x="1245" y="222" width="1" height="29" fill="#000"/>
<rect x="1243" y="231" width="5" height="17" fill="#000"/>
<rect x="1244" y="232" width="3" height="15" fill="#fff"/>
<rect x="1253" y="205" width="1" height="26" fill="#000"/>
<rect x="1251" y="212" width="5" height="19" fill="#000"/>
<rect x="1252" y="213" width="3" height="17" fill="#fff"/>
<rect x="1261" y="180" width="1" height="38" fill="#000"/>
<rect x="1259" y="188" width="5" height="25" fill="#000"/>
<rect x="1260" y="189" width="3" height="23" fill="#fff"/>
<rect x="1269" y="166" width="1" height="25" fill="#000"/>
<rect x="1267" y="179" width="5" height="9" fill="#000"/>
<rect x="1268" y="180" width="3" height="7" fill="#fff"/>
<rect x="1277" y="173" width="1" height="19" fill="#000"/>
<rect x="1275" y="174" width="5" height="5" fill="#000"/>
<rect x="1276" y="175" width="3" height="3" fill="#fff"/>
<rect x="1285" y="172" width="1" height="33" fill="#000"/>
<rect x="1283" y="174" width="5" height="18" fill="#000"/>
<rect x="1293" y="184" width="1" height="13" fill="#000"/>
<rect x="1291" y="187" width="5" height="5" fill="#000"/>
<rect x="1292" y="188" width="3" height="3" fill="#fff"/>
<rect x="1301" y="174" width="1" height="20" fill="#000"/>
<rect x="1299" y="176" width="5" height="10" fill="#000"/>
<rect x="1300" y="177" width="3" height="8" fill="#fff"/>
<rect x="1309" y="154" width="1" height="28" fill="#000"/>
<rect x="1307" y="164" width="5" height="15" fill="#000"/>
<rect x="1308" y="165" width="3" height="13" fill="#fff"/>
<rect x="1317" y="131" width="1" height="39" fill="#000"/>
<rect x="1315" y="133" width="5" height="30" fill="#000"/>
<rect x="1316" y="134" width="3" height="28" fill="#fff"/>
<rect x="1325" y="102" width="1" height="33" fill="#000"/>
<rect x="1323" y="111" width="5" height="23" fill="#000"/>
<rect x="1324" y="112" width="3" height="21" fill="#fff"/>
<rect x="1333" y="83" width="1" height="50" fill="#000"/>
<rect x="1331" y="108" width="5" height="2" fill="#000"/>
<rect x="1341" y="93" width="1" height="24" fill="#000"/>
<rect x="1339" y="95" width="5" height="13" fill="#000"/>
<rect x="1340" y="96" width="3" height="11" fill="#fff"/>
<rect x="1349" y="78" width="1" height="21" fill="#000"/>
<rect x="1347" y="84" width="5" height="12" fill="#000"/>
<rect x="1348" y="85" width="3" height="10" fill="#fff"/>
<rect x="1357" y="78" width="1" height="42" fill="#000"/>
<rect x="1355" y="87" width="5" height="27" fill="#000"/>
<rect x="1365" y="98" width="1" height="46" fill="#000"/>
<rect x="1363" y="112" width="5" height="28" fill="#000"/>
<rect x="1373" y="121" width="1" height="36" fill="#000"/>
<rect x="1371" y="126" width="5" height="14" fill="#000"/>
<rect x="1372" y="127" width="3" height="12" fill="#fff"/>
<rect x="1381" y="92" width="1" height="41" fill="#000"/>
<rect x="1379" y="106" width="5" height="20" fill="#000"/>
<rect x="1380" y="107" width="3" height="18" fill="#fff"/>
<rect x="1389" y="86" width="1" height="23" fill="#000"/>
<rect x="1387" y="86" width="5" height="20" fill="#000"/>
<rect x="1388" y="87" width="3" height="18" fill="#fff"/>
<rect x="1397" y="83" width="1" height="12" fill="#000"/>
<rect x="1395" y="86" width="5" height="2" fill="#000"/>
<rect x="1405" y="88" width="1" height="27" fill="#000"/>
<rect x="1403" y="91" width="5" height="13" fill="#000"/>
<rect x="1413" y="97" width="1" height="49" fill="#000"/>
<rect x="1411" y="104" width="5" height="29" fill="#000"/>
<rect x="1421" y="109" width="1" height="25" fill="#000"/>
<rect x="1419" y="112" width="5" height="21" fill="#000"/>
<rect x="1420" y="113" width="3" height="19" fill="#fff"/>
<rect x="1429" y="88" width="1" height="50" fill="#000"/>
<rect x="1427" y="99" width="5" height="13" fill="#000"/>
<rect x="1428" y="100" width="3" height="11" fill="#fff"/>
<rect x="1437" y="88" width="1" height="13" fill="#000"/>
<rect x="1435" y="89" width="5" height="11" fill="#000"/>
<rect x="1436" y="90" width="3" height="9" fill="#fff"/>
<rect x="5" y="650" width="1" height="50" fill="#C0C0C0"/>
<rect x="13" y="651" width="1" height="49" fill="#C0C0C0"/>
<rect x="21" y="653" width="1" height="47" fill="#C0C0C0"/>
<rect x="29" y="657" width="1" height="43" fill="#C0C0C0"/>
<rect x="37" y="658" width="1" height="42" fill="#C0C0C0"/>
<rect x="45" y="659" width="1" height="41" fill="#C0C0C0"/>
<rect x="53" y="662" width="1" height="38" fill="#C0C0C0"/>
<rect x="61" y="665" width="1" height="35" fill="#C0C0C0"/>
<rect x="69" y="666" width="1" height="34" fill="#C0C0C0"/>
<rect x="77" y="670" width="1" height="30" fill="#C0C0C0"/>
<rect x="85" y="672" width="1" height="28" fill="#C0C0C0"/>
<rect x="93" y="673" width="1" height="27" fill="#C0C0C0"/>
<rect x="101" y="675" width="1" height="25" fill="#C0C0C0"/>
<rect x="109" y="676" width="1" height="24" fill="#C0C0C0"/>
<rect x="117" y="678" width="1" height="22" fill="#C0C0C0"/>
<rect x="125" y="680" width="1" height="20" fill="#C0C0C0"/>
<rect x="133" y="682" width="1" height="18" fill="#C0C0C0"/>
<rect x="141" y="691" width="1" height="9" fill="#C0C0C0"/>
<rect x="149" y="697" width="1" height="3" fill="#C0C0C0"/>
<rect x="157" y="699" width="1" height="1" fill="#C0C0C0"/>
<rect x="165" y="699" width="1" height="1" fill="#C0C0C0"/>
<rect x="173" y="699" width="1" height="2" fill="#C0C0C0"/>
<rect x="181" y="695" width="1" height="5" fill="#C0C0C0"/>
<rect x="189" y="693" width="1" height="7" fill="#C0C0C0"/>
<rect x="197" y="691" width="1" height="9" fill="#C0C0C0"/>
<rect x="205" y="686" width="1" height="14" fill="#C0C0C0"/>
<rect x="213" y="684" width="1" height="16" fill="#C0C0C0"/>
<rect x="221" y="682" width="1" height="18" fill="#C0C0C0"/>
<rect x="229" y="682" width="1" height="18" fill="#C0C0C0"/>
<rect x="237" y="681" width="1" height="19" fill="#C0C0C0"/>
<rect x="245" y="678" width="1" height="22" fill="#C0C0C0"/>
<rect x="253" y="675" width="1" height="25" fill="#C0C0C0"/>
<rect x="261" y="671" width="1" height="29" fill="#C0C0C0"/>
<rect x="269" y="669" width="1" height="31" fill="#C0C0C0"/>
<rect x="277" y="673" width="1" height="27" fill="#C0C0C0"/>
<rect x="285" y="678" width="1" height="22" fill="#C0C0C0"/>
<rect x="293" y="681" width="1" height="19" fill="#C0C0C0"/>
<rect x="301" y="684" width="1" height="16" fill="#C0C0C0"/>
<rect x="309" y="687" width="1" height="13" fill="#C0C0C0"/>
<rect x="317" y="690" width="1" height="10" fill="#C0C0C0"/>
<rect x="325" y="693" width="1" height="7" fill="#C0C0C0"/>
<rect x="333" y="693" width="1" height="7" fill="#C0C0C0"/>
<rect x="341" y="694" width="1" height="6" fill="#C0C0C0"/>
<rect x="349" y="694" width="1" height="6" fill="#C0C0C0"/>
<rect x="357" y="697" width="1" height="3" fill="#C0C0C0"/>
<rect x="365" y="699" width="1" height="1" fill="#C0C0C0"/>
<rect x="373" y="699" width="1" height="1" fill="#C0C0C0"/>
<rect x="381" y="699" width="1" height="5" fill="#C0C0C0"/>
<rect x="389" y="699" width="1" height="7" fill="#C0C0C0"/>
<rect x="397" y="699" width="1" height="9" fill="#C0C0C0"/>
<rect x="405" y="699" width="1" height="18" fill="#C0C0C0"/>
<rect x="413" y="699" width="1" height="26" fill="#C0C0C0"/>
<rect x="421" y="699" width="1" height="37" fill="#C0C0C0"/>
<rect x="429" y="699" width="1" height="42" fill="#C0C0C0"/>
<rect x="437" y="699" width="1" height="44" fill="#C0C0C0"/>
<rect x="445" y="699" width="1" height="42" fill="#C0C0C0"/>
<rect x="453" y="699" width="1" height="42" fill="#C0C0C0"/>
<rect x="461" y="699" width="1" height="40" fill="#C0C0C0"/>
<rect x="469" y="699" width="1" height="36" fill="#C0C0C0"/>
<rect x="477" y="699" width="1" height="30" fill="#C0C0C0"/>
<rect x="485" y="699" width="1" height="26" fill="#C0C0C0"/>
<rect x="493" y="699" width="1" height="28" fill="#C0C0C0"/>
<rect x="501" y="699" width="1" height="24" fill="#C0C0C0"/>
<rect x="509" y="699" width="1" height="20" fill="#C0C0C0"/>
<rect x="517" y="699" width="1" height="18" fill="#C0C0C0"/>
<rect x="525" y="699" width="1" height="18" fill="#C0C0C0"/>
<rect x="533" y="699" width="1" height="18" fill="#C0C0C0"/>
<rect x="541" y="699" width="1" height="16" fill="#C0C0C0"/>
<rect x="549" y="699" width="1" height="13" fill="#C0C0C0"/>
<rect x="557" y="699" width="1" height="11" fill="#C0C0C0"/>
<rect x="565" y="699" width="1" height="10" fill="#C0C0C0"/>
<rect x="573" y="699" width="1" height="8" fill="#C0C0C0"/>
<rect x="581" y="699" width="1" height="7" fill="#C0C0C0"/>
<rect x="589" y="699" width="1" height="7" fill="#C0C0C0"/>
<rect x="597" y="699" width="1" height="6" fill="#C0C0C0"/>
<rect x="605" y="699" width="1" height="8" fill="#C0C0C0"/>
<rect x="613" y="699" width="1" height="16" fill="#C0C0C0"/>
<rect x="621" y="699" width="1" height="21" fill="#C0C0C0"/>
<rect x="629" y="699" width="1" height="27" fill="#C0C0C0"/>
<rect x="637" y="699" width="1" height="26" fill="#C0C0C0"/>
<rect x="645" y="699" width="1" height="28" fill="#C0C0C0"/>
<rect x="653" y="699" width="1" height="31" fill="#C0C0C0"/>
<rect x="661" y="699" width="1" height="37" fill="#C0C0C0"/>
<rect x="669" y="699" width="1" height="40" fill="#C0C0C0"/>
<rect x="677" y="699" width="1" height="41" fill="#C0C0C0"/>
<rect x="685" y="699" width="1" height="42" fill="#C0C0C0"/>
<rect x="693" y="699" width="1" height="42" fill="#C0C0C0"/>
<rect x="701" y="699" width="1" height="39" fill="#C0C0C0"/>
<rect x="709" y="699" width="1" height="37" fill="#C0C0C0"/>
<rect x="717" y="699" width="1" height="37" fill="#C0C0C0"/>
<rect x="725" y="699" width="1" height="35" fill="#C0C0C0"/>
<rect x="733" y="699" width="1" height="39" fill="#C0C0C0"/>
<rect x="741" y="699" width="1" height="38" fill="#C0C0C0"/>
<rect x="749" y="699" width="1" height="37" fill="#C0C0C0"/>
<rect x="757" y="699" width="1" height="34" fill="#C0C0C0"/>
<rect x="765" y="699" width="1" height="32" fill="#C0C0C0"/>
<rect x="773" y="699" width="1" height="29" fill="#C0C0C0"/>
<rect x="781" y="699" width="1" height="28" fill="#C0C0C0"/>
<rect x="789" y="699" width="1" height="30" fill="#C0C0C0"/>
<rect x="797" y="699" width="1" height="31" fill="#C0C0C0"/>
<rect x="805" y="699" width="1" height="37" fill="#C0C0C0"/>
<rect x="813" y="699" width="1" height="40" fill="#C0C0C0"/>
<rect x="821" y="699" width="1" height="42" fill="#C0C0C0"/>
<rect x="829" y="699" width="1" height="41" fill="#C0C0C0"/>
<rect x="837" y="699" width="1" height="39" fill="#C0C0C0"/>
<rect x="845" y="699" width="1" height="37" fill="#C0C0C0"/>
<rect x="853" y="699" width="1" height="35" fill="#C0C0C0"/>
<rect x="861" y="699" width="1" height="32" fill="#C0C0C0"/>
<rect x="869" y="699" width="1" height="30" fill="#C0C0C0"/>
<rect x="877" y="699" width="1" height="26" fill="#C0C0C0"/>
<rect x="885" y="699" width="1" height="30" fill="#C0C0C0"/>
<rect x="893" y="699" width="1" height="29" fill="#C0C0C0"/>
<rect x="901" y="699" width="1" height="26" fill="#C0C0C0"/>
<rect x="909" y="699" width="1" height="24" fill="#C0C0C0"/>
<rect x="917" y="699" width="1" height="22" fill="#C0C0C0"/>
<rect x="925" y="699" width="1" height="24" fill="#C0C0C0"/>
<rect x="933" y="699" width="1" height="22" fill="#C0C0C0"/>
<rect x="941" y="699" width="1" height="22" fill="#C0C0C0"/>
<rect x="949" y="699" width="1" height="20" fill="#C0C0C0"/>
<rect x="957" y="699" width="1" height="18" fill="#C0C0C0"/>
<rect x="965" y="699" width="1" height="15" fill="#C0C0C0"/>
<rect x="973" y="699" width="1" height="15" fill="#C0C0C0"/>
<rect x="981" y="699" width="1" height="11" fill="#C0C0C0"/>
<rect x="989" y="699" width="1" height="9" fill="#C0C0C0"/>
<rect x="997" y="699" width="1" height="6" fill="#C0C0C0"/>
<rect x="1005" y="699" width="1" height="2" fill="#C0C0C0"/>
<rect x="1013" y="698" width="1" height="2" fill="#C0C0C0"/>
<rect x="1021" y="693" width="1" height="7" fill="#C0C0C0"/>
<rect x="1029" y="691" width="1" height="9" fill="#C0C0C0"/>
<rect x="1037" y="687" width="1" height="13" fill="#C0C0C0"/>
<rect x="1045" y="680" width="1" height="20" fill="#C0C0C0"/>
<rect x="1053" y="674" width="1" height="26" fill="#C0C0C0"/>
<rect x="1061" y="670" width="1" height="30" fill="#C0C0C0"/>
<rect x="1069" y="664" width="1" height="36" fill="#C0C0C0"/>
<rect x="1077" y="657" width="1" height="43" fill="#C0C0C0"/>
<rect x="1085" y="651" width="1" height="49" fill="#C0C0C0"/>
<rect x="1093" y="643" width="1" height="57" fill="#C0C0C0"/>
<rect x="1101" y="637" width="1" height="63" fill="#C0C0C0"/>
<rect x="1109" y="633" width="1" height="67" fill="#C0C0C0"/>
<rect x="1117" y="631" width="1" height="69" fill="#C0C0C0"/>
<rect x="1125" y="632" width="1" height="68" fill="#C0C0C0"/>
<rect x="1133" y="635" width="1" height="65" fill="#C0C0C0"/>
<rect x="1141" y="637" width="1" height="63" fill="#C0C0C0"/>
<rect x="1149" y="640" width="1" height="60" fill="#C0C0C0"/>
<rect x="1157" y="641" width="1" height="59" fill="#C0C0C0"/>
<rect x="1165" y="643" width="1" height="57" fill="#C0C0C0"/>
<rect x="1173" y="646" width="1" height="54" fill="#C0C0C0"/>
<rect x="1181" y="646" width="1" height="54" fill="#C0C0C0"/>
<rect x="1189" y="641" width="1" height="59" fill="#C0C0C0"/>
<rect x="1197" y="640" width="1" height="60" fill="#C0C0C0"/>
<rect x="1205" y="638" width="1" height="62" fill="#C0C0C0"/>
<rect x="1213" y="640" width="1" height="60" fill="#C0C0C0"/>
<rect x="1221" y="642" width="1" height="58" fill="#C0C0C0"/>
<rect x="1229" y="642" width="1" height="58" fill="#C0C0C0"/>
<rect x="1237" y="638" width="1" height="62" fill="#C0C0C0"/>
<rect x="1245" y="632" width="1" height="68" fill="#C0C0C0"/>
<rect x="1253" y="626" width="1" height="74" fill="#C0C0C0"/>
<rect x="1261" y="619" width="1" height="81" fill="#C0C0C0"/>
<rect x="1269" y="613" width="1" height="87" fill="#C0C0C0"/>
<rect x="1277" y="609" width="1" height="91" fill="#C0C0C0"/>
<rect x="1285" y="609" width="1" height="91" fill="#C0C0C0"/>
<rect x="1293" y="609" width="1" height="91" fill="#C0C0C0"/>
<rect x="1301" y="609" width="1" height="91" fill="#C0C0C0"/>
<rect x="1309" y="608" width="1" height="92" fill="#C0C0C0"/>
<rect x="1317" y="605" width="1" height="95" fill="#C0C0C0"/>
<rect x="1325" y="600" width="1" height="100" fill="#C0C0C0"/>
<rect x="1333" y="597" width="1" height="103" fill="#C0C0C0"/>
<rect x="1341" y="594" width="1" height="106" fill="#C0C0C0"/>
<rect x="1349" y="591" width="1" height="109" fill="#C0C0C0"/>
<rect x="1357" y="594" width="1" height="106" fill="#C0C0C0"/>
<rect x="1365" y="599" width="1" height="101" fill="#C0C0C0"/>
<rect x="1373" y="605" width="1" height="95" fill="#C0C0C0"/>
<rect x="1381" y="608" width="1" height="92" fill="#C0C0C0"/>
<rect x="1389" y="608" width="1" height="92" fill="#C0C0C0"/>
<rect x="1397" y="609" width="1" height="91" fill="#C0C0C0"/>
<rect x="1405" y="613" width="1" height="87" fill="#C0C0C0"/>
<rect x="1413" y="618" width="1" height="82" fill="#C0C0C0"/>
<rect x="1421" y="622" width="1" height="78" fill="#C0C0C0"/>
<rect x="1429" y="624" width="1" height="76" fill="#C0C0C0"/>
<rect x="1437" y="626" width="1" height="74" fill="#C0C0C0"/>
<path d="M0 635h3v1h-3zM6 635h3v1h-3zM12 635h2v1h-2zM14 636h1v1h-1zM18 638h2v1h-2zM20 639h1v1h-1zM24 641h3v1h-3zM30 643h1v1h-1zM31 644h2v1h-2zM36 646h1v1h-1zM37 647h2v1h-2zM42 649h2v1h-2zM44 650h1v1h-1zM48 651h1v1h-1zM49 652h2v1h-2zM54 653h3v1h-3zM60 654h1v1h-1zM61 655h2v1h-2zM66 656h3v1h-3zM72 657h2v1h-2zM74 658h1v1h-1zM78 659h2v1h-2zM80 660h1v1h-1zM84 661h1v1h-1zM85 662h2v1h-2zM90 663h1v1h-1zM91 664h2v1h-2zM96 665h3v1h-3zM102 666h2v1h-2zM104 667h1v1h-1zM108 668h3v1h-3zM114 669h2v1h-2zM116 670h1v1h-1zM120 671h3v1h-3zM126 672h3v1h-3zM132 673h1v1h-1zM133 674h2v1h-2zM138 675h3v1h-3zM144 677h2v1h-2zM146 678h1v1h-1zM150 679h1v1h-1zM151 680h2v1h-2zM156 682h1v1h-1zM157 683h2v1h-2zM162 685h1v1h-1zM163 686h2v1h-2zM168 687h1v1h-1zM169 688h2v1h-2zM174 689h2v1h-2zM176 690h1v1h-1zM180 691h3v1h-3zM186 692h2v1h-2zM188 693h1v1h-1zM192 693h3v1h-3zM198 694h3v1h-3zM204 694h2v1h-2zM206 693h1v1h-1zM210 693h2v1h-2zM212 692h1v1h-1zM216 692h3v1h-3zM222 691h3v1h-3zM228 690h2v1h-2zM230 689h1v1h-1zM234 688h2v1h-2zM236 687h1v1h-1zM240 686h3v1h-3zM246 685h1v1h-1zM247 684h2v1h-2zM252 683h3v1h-3zM258 681h2v1h-2zM260 680h1v1h-1zM264 679h1v1h-1zM265 678h2v1h-2zM270 677h3v1h-3zM276 676h3v1h-3zM282 676h3v1h-3zM288 676h3v1h-3zM294 676h3v1h-3zM300 676h3v1h-3zM306 676h1v1h-1zM307 677h2v1h-2zM312 677h1v1h-1zM313 678h2v1h-2zM318 678h1v1h-1zM319 679h2v1h-2zM324 680h3v1h-3zM330 681h1v1h-1zM331 682h2v1h-2zM336 683h2v1h-2zM338 684h1v1h-1zM342 685h2v1h-2zM344 686h1v1h-1zM348 687h3v1h-3zM354 688h2v1h-2zM356 689h1v1h-1zM360 690h3v1h-3zM366 692h3v1h-3zM372 693h2v1h-2zM374 694h1v1h-1zM378 695h3v1h-3zM384 696h3v1h-3zM390 697h3v1h-3zM396 699h3v1h-3zM402 701h2v1h-2zM404 702h1v1h-1zM408 704h2v1h-2zM410 705h1v1h-1zM414 707h2v1h-2zM416 708h1v1h-1zM420 710h1v1h-1zM421 711h2v1h-2zM426 713h1v1h-1zM427 714h2v1h-2zM432 716h1v1h-1zM433 717h2v1h-2zM438 720h2v1h-2zM440 721h1v1h-1zM444 723h1v1h-1zM445 724h2v1h-2zM450 726h1v1h-1zM451 727h2v1h-2zM456 729h1v1h-1zM457 730h2v1h-2zM462 732h1v1h-1zM463 733h2v1h-2zM468 734h3v1h-3zM474 735h3v1h-3zM480 735h3v1h-3zM486 735h3v1h-3zM492 734h3v1h-3zM498 733h1v1h-1zM499 732h2v1h-2zM504 731h3v1h-3zM510 730h1v1h-1zM511 729h2v1h-2zM516 728h2v1h-2zM518 727h1v1h-1zM522 726h3v1h-3zM528 725h1v1h-1zM529 724h2v1h-2zM534 723h3v1h-3zM540 722h1v1h-1zM541 721h2v1h-2zM546 720h1v1h-1zM547 719h2v1h-2zM552 718h3v1h-3zM558 717h3v1h-3zM564 716h3v1h-3zM570 715h1v1h-1zM571 714h2v1h-2zM576 713h3v1h-3zM582 712h3v1h-3zM588 711h3v1h-3zM594 710h3v1h-3zM600 709h3v1h-3zM606 708h3v1h-3zM612 708h3v1h-3zM618 709h3v1h-3zM624 710h3v1h-3zM630 710h3v1h-3zM636 711h3v1h-3zM642 713h1v1h-1zM643 714h2v1h-2zM648 715h1v1h-1zM649 716h2v1h-2zM654 717h2v1h-2zM656 718h1v1h-1zM660 720h2v1h-2zM662 721h1v1h-1zM666 722h1v1h-1zM667 723h2v1h-2zM672 725h2v1h-2zM674 726h1v1h-1zM678 728h2v1h-2zM680 729h1v1h-1zM684 730h1v1h-1zM685 731h2v1h-2zM690 732h2v1h-2zM692 733h1v1h-1zM696 734h3v1h-3zM702 735h3v1h-3zM708 736h3v1h-3zM714 737h3v1h-3zM720 737h1v1h-1zM721 738h2v1h-2zM726 738h3v1h-3zM732 738h3v1h-3zM738 738h3v1h-3zM744 737h3v1h-3zM750 737h3v1h-3zM756 736h3v1h-3zM762 735h3v1h-3zM768 734h3v1h-3zM774 734h3v1h-3zM780 733h3v1h-3zM786 732h3v1h-3zM792 731h3v1h-3zM798 731h3v1h-3zM804 731h3v1h-3zM810 731h3v1h-3zM816 731h2v1h-2zM818 732h1v1h-1zM822 732h3v1h-3zM828 732h3v1h-3zM834 732h3v1h-3zM840 733h3v1h-3zM846 734h3v1h-3zM852 735h3v1h-3zM858 735h3v1h-3zM864 735h3v1h-3zM870 735h3v1h-3zM876 734h2v1h-2zM878 733h1v1h-1zM882 733h1v1h-1zM883 732h2v1h-2zM888 731h3v1h-3zM894 730h3v1h-3zM900 729h3v1h-3zM906 728h3v1h-3zM912 727h3v1h-3zM918 726h1v1h-1zM919 725h2v1h-2zM924 725h2v1h-2zM926 724h1v1h-1zM930 724h3v1h-3zM936 723h3v1h-3zM942 723h3v1h-3zM948 722h3v1h-3zM954 721h3v1h-3zM960 720h3v1h-3zM966 719h3v1h-3zM972 718h3v1h-3zM978 717h3v1h-3zM984 716h3v1h-3zM990 715h1v1h-1zM991 714h2v1h-2zM996 713h3v1h-3zM1002 712h1v1h-1zM1003 711h2v1h-2zM1008 710h3v1h-3zM1014 708h2v1h-2zM1016 707h1v1h-1zM1020 706h1v1h-1zM1021 705h2v1h-2zM1026 703h3v1h-3zM1032 701h3v1h-3zM1038 700h1v1h-1zM1039 699h2v1h-2zM1044 697h1v1h-1zM1045 696h1v1h-1zM1046 695h1v1h-1zM1050 693h2v1h-2zM1052 692h1v1h-1zM1056 690h2v1h-2zM1058 689h1v1h-1zM1062 687h2v1h-2zM1064 686h1v1h-1zM1068 683h2v1h-2zM1070 682h1v1h-1zM1074 680h1v1h-1zM1075 679h2v1h-2zM1080 677h1v1h-1zM1081 676h2v1h-2zM1086 673h1v1h-1zM1087 672h1v1h-1zM1088 671h1v1h-1zM1092 669h1v1h-1zM1093 668h1v1h-1zM1094 667h1v1h-1zM1098 664h1v1h-1zM1099 663h2v1h-2zM1104 660h1v1h-1zM1105 659h1v1h-1zM1106 658h1v1h-1zM1110 655h1v1h-1zM1111 654h1v1h-1zM1112 653h1v1h-1zM1116 650h1v1h-1zM1117 649h1v1h-1zM1118 648h1v1h-1zM1122 646h1v1h-1zM1123 645h2v1h-2zM1128 643h2v1h-2zM1130 642h1v1h-1zM1134 641h1v1h-1zM1135 640h2v1h-2zM1140 638h3v1h-3zM1146 637h3v1h-3zM1152 636h2v1h-2zM1154 635h1v1h-1zM1158 635h2v1h-2zM1160 634h1v1h-1zM1164 634h1v1h-1zM1165 635h2v1h-2zM1170 636h3v1h-3zM1176 637h3v1h-3zM1182 638h3v1h-3zM1188 639h3v1h-3zM1194 640h3v1h-3zM1200 640h3v1h-3zM1206 640h3v1h-3zM1212 640h2v1h-2zM1214 641h1v1h-1zM1218 641h3v1h-3zM1224 641h3v1h-3zM1230 641h3v1h-3zM1236 640h2v1h-2zM1238 639h1v1h-1zM1242 639h3v1h-3zM1248 638h3v1h-3zM1254 636h3v1h-3zM1260 634h2v1h-2zM1262 633h1v1h-1zM1266 631h3v1h-3zM1272 629h2v1h-2zM1274 628h1v1h-1zM1278 627h1v1h-1zM1279 626h2v1h-2zM1284 624h3v1h-3zM1290 622h1v1h-1zM1291 621h2v1h-2zM1296 619h1v1h-1zM1297 618h2v1h-2zM1302 616h2v1h-2zM1304 615h1v1h-1zM1308 614h1v1h-1zM1309 613h2v1h-2zM1314 611h3v1h-3zM1320 609h3v1h-3zM1326 608h1v1h-1zM1327 607h2v1h-2zM1332 606h3v1h-3zM1338 604h3v1h-3zM1344 603h1v1h-1zM1345 602h2v1h-2zM1350 601h1v1h-1zM1351 600h2v1h-2zM1356 599h3v1h-3zM1362 599h3v1h-3zM1368 599h3v1h-3zM1374 599h3v1h-3zM1380 599h3v1h-3zM1386 599h3v1h-3zM1392 599h2v1h-2zM1394 600h1v1h-1zM1398 600h3v1h-3zM1404 602h2v1h-2zM1406 603h1v1h-1zM1410 604h1v1h-1zM1411 605h2v1h-2zM1416 607h1v1h-1zM1417 608h2v1h-2zM1422 610h2v1h-2zM1424 611h1v1h-1zM1428 612h3v1h-3zM1434 614h1v1h-1zM1435 615h2v1h-2z" fill="#FF0000"/>
<line x1="0" y1="789.5" x2="1648" y2="789.5" stroke="#C0C0C0" stroke-width="1" stroke-dasharray="3 3" stroke-dashoffset="4" shape-rendering="crispEdges"/>
<line x1="0" y1="840.5" x2="1648" y2="840.5" stroke="#C0C0C0" stroke-width="1" stroke-dasharray="3 3" stroke-dashoffset="4" shape-rendering="crispEdges"/>
<line x1="0" y1="901.5" x2="1648" y2="901.5" stroke="#C0C0C0" stroke-width="1" stroke-dasharray="3 3" stroke-dashoffset="4" shape-rendering="crispEdges"/>
<path d="M0 832h1v1h-1zM1 830h1v2h-1zM2 829h1v1h-1zM3 827h1v2h-1zM4 825h1v2h-1zM5 824h1v1h-1zM6 823h2v1h-2zM8 822h2v1h-2zM10 821h2v1h-2zM12 820h2v1h-2zM14 821h2v1h-2zM16 822h1v1h-1zM17 823h2v1h-2zM19 824h2v1h-2zM21 825h1v1h-1zM22 826h2v1h-2zM24 827h1v1h-1zM25 828h2v1h-2zM27 829h2v1h-2zM29 830h1v1h-1zM30 829h2v1h-2zM32 828h1v1h-1zM33 827h2v1h-2zM35 826h2v1h-2zM37 825h10v1h-10zM47 826h4v1h-4zM51 827h3v1h-3zM54 828h2v1h-2zM56 829h2v1h-2zM58 830h2v1h-2zM60 831h2v1h-2zM62 830h2v1h-2zM64 829h1v1h-1zM65 828h2v1h-2zM67 827h2v1h-2zM69 826h1v1h-1zM70 827h1v1h-1zM71 828h1v1h-1zM72 829h1v1h-1zM73 830h1v1h-1zM74 831h1v1h-1zM75 832h1v1h-1zM76 833h1v1h-1zM77 834h2v1h-2zM79 833h2v1h-2zM81 832h3v1h-3zM84 831h3v1h-3zM87 830h4v1h-4zM91 829h22v1h-22zM113 830h5v1h-5zM118 831h1v1h-1zM119 832h2v1h-2zM121 833h1v1h-1zM122 834h1v1h-1zM123 835h2v1h-2zM125 836h4v1h-4zM129 835h5v1h-5zM133 836h1v1h-1zM134 837h1v3h-1zM135 840h1v3h-1zM136 843h1v3h-1zM137 846h1v4h-1zM138 850h1v3h-1zM139 853h1v3h-1zM140 856h1v3h-1zM141 859h1v2h-1zM142 860h1v1h-1zM143 859h2v1h-2zM145 858h3v1h-3zM148 857h3v1h-3zM151 858h2v1h-2zM153 859h3v1h-3zM156 860h2v1h-2zM157 859h1v1h-1zM158 857h1v2h-1zM159 854h1v3h-1zM160 852h1v2h-1zM161 849h1v3h-1zM162 847h1v2h-1zM163 844h1v3h-1zM164 842h1v2h-1zM165 840h1v2h-1zM166 839h1v1h-1zM167 838h1v1h-1zM168 837h1v1h-1zM169 836h1v1h-1zM170 835h1v1h-1zM171 834h1v1h-1zM172 833h1v1h-1zM173 832h1v1h-1zM174 831h1v1h-1zM175 830h1v1h-1zM176 829h1v1h-1zM177 828h1v1h-1zM178 827h1v1h-1zM179 826h1v1h-1zM180 825h1v1h-1zM181 824h1v1h-1zM182 825h1v2h-1zM183 827h1v1h-1zM184 828h1v1h-1zM185 829h1v2h-1zM186 831h1v1h-1zM187 832h1v1h-1zM188 833h1v2h-1zM189 835h1v1h-1zM190 834h1v1h-1zM191 833h1v1h-1zM192 832h1v1h-1zM193 831h2v1h-2zM195 830h1v1h-1zM196 829h1v1h-1zM197 828h1v1h-1zM198 827h1v1h-1zM199 826h2v1h-2zM201 825h1v1h-1zM202 824h1v1h-1zM203 823h2v1h-2zM205 822h2v1h-2zM207 823h2v1h-2zM209 824h3v1h-3zM212 825h3v1h-3zM215 826h2v1h-2zM217 827h3v1h-3zM220 828h3v1h-3zM223 829h4v1h-4zM227 830h3v1h-3zM230 829h1v1h-1zM231 828h2v1h-2zM233 827h1v1h-1zM234 826h1v1h-1zM235 825h2v1h-2zM237 824h1v1h-1zM238 823h2v1h-2zM240 822h2v1h-2zM242 821h2v1h-2zM244 820h2v1h-2zM246 819h2v1h-2zM248 818h2v1h-2zM250 817h2v1h-2zM252 816h2v1h-2zM254 815h2v1h-2zM256 814h1v1h-1zM257 813h2v1h-2zM259 812h2v1h-2zM261 811h1v1h-1zM262 812h1v1h-1zM263 813h2v1h-2zM265 814h1v1h-1zM266 815h1v1h-1zM267 816h2v1h-2zM269 817h1v2h-1zM270 819h1v2h-1zM271 821h1v3h-1zM272 824h1v2h-1zM273 826h1v3h-1zM274 829h1v2h-1zM275 831h1v3h-1zM276 834h1v2h-1zM277 836h1v2h-1zM278 838h2v1h-2zM280 839h1v1h-1zM281 840h2v1h-2zM283 841h2v1h-2zM285 842h1v1h-1zM286 841h2v1h-2zM288 840h2v1h-2zM290 839h2v1h-2zM292 838h3v1h-3zM295 839h2v1h-2zM297 840h3v1h-3zM300 841h3v1h-3zM303 840h4v1h-4zM307 839h3v1h-3zM310 840h1v1h-1zM311 841h1v1h-1zM312 842h1v1h-1zM313 843h2v1h-2zM315 844h1v1h-1zM316 845h1v1h-1zM317 846h1v1h-1zM318 845h2v1h-2zM320 844h2v1h-2zM322 843h2v1h-2zM324 842h2v1h-2zM326 841h2v1h-2zM328 840h2v1h-2zM330 839h2v1h-2zM332 838h13v1h-13zM345 837h5v1h-5zM350 838h1v2h-1zM351 840h1v2h-1zM352 842h1v1h-1zM353 843h1v2h-1zM354 845h1v1h-1zM355 846h1v2h-1zM356 848h1v2h-1zM357 850h2v1h-2zM359 851h2v1h-2zM361 852h3v1h-3zM364 853h2v1h-2zM366 851h1v2h-1zM367 850h1v1h-1zM368 849h1v1h-1zM369 847h1v2h-1zM370 846h1v1h-1zM371 845h1v1h-1zM372 843h1v2h-1zM373 842h1v1h-1zM374 843h1v1h-1zM375 844h1v1h-1zM376 845h1v1h-1zM377 846h2v1h-2zM379 847h1v1h-1zM380 848h1v1h-1zM381 849h2v1h-2zM383 850h4v1h-4zM387 851h6v1h-6zM393 852h5v1h-5zM397 853h1v1h-1zM398 854h1v2h-1zM399 856h1v3h-1zM400 859h1v2h-1zM401 861h1v3h-1zM402 864h1v2h-1zM403 866h1v3h-1zM404 869h1v2h-1zM405 871h1v2h-1zM406 873h2v1h-2zM408 874h1v1h-1zM409 875h2v1h-2zM411 876h2v1h-2zM413 877h1v1h-1zM414 878h1v1h-1zM415 879h2v1h-2zM417 880h1v1h-1zM418 881h1v1h-1zM419 882h2v1h-2zM421 883h1v1h-1zM422 881h1v2h-1zM423 880h1v1h-1zM424 879h1v1h-1zM425 877h1v2h-1zM426 876h1v1h-1zM427 875h1v1h-1zM428 873h1v2h-1zM429 872h1v1h-1zM430 871h1v1h-1zM431 870h2v1h-2zM433 869h1v1h-1zM434 868h1v1h-1zM435 867h2v1h-2zM437 866h1v1h-1zM438 864h1v2h-1zM439 862h1v2h-1zM440 861h1v1h-1zM441 859h1v2h-1zM442 858h1v1h-1zM443 856h1v2h-1zM444 854h1v2h-1zM445 853h1v1h-1zM446 854h2v1h-2zM448 855h1v1h-1zM449 856h2v1h-2zM451 857h2v1h-2zM453 858h1v1h-1zM454 857h1v1h-1zM455 856h1v1h-1zM456 855h1v1h-1zM457 854h1v1h-1zM458 853h1v1h-1zM459 852h1v1h-1zM460 851h1v1h-1zM461 850h2v1h-2zM463 849h2v1h-2zM465 848h3v1h-3zM468 847h3v1h-3zM471 846h2v1h-2zM473 845h3v1h-3zM476 844h3v1h-3zM479 843h4v1h-4zM483 842h3v1h-3zM486 843h1v2h-1zM487 845h1v1h-1zM488 846h1v2h-1zM489 848h1v1h-1zM490 849h1v2h-1zM491 851h1v1h-1zM492 852h1v2h-1zM493 854h1v1h-1zM494 852h1v2h-1zM495 851h1v1h-1zM496 850h1v1h-1zM497 848h1v2h-1zM498 847h1v1h-1zM499 846h1v1h-1zM500 844h1v2h-1zM501 843h1v1h-1zM502 842h2v1h-2zM504 841h2v1h-2zM506 840h2v1h-2zM508 839h2v1h-2zM510 840h1v1h-1zM511 841h1v1h-1zM512 842h1v1h-1zM513 843h1v1h-1zM514 844h1v1h-1zM515 845h1v1h-1zM516 846h1v1h-1zM517 847h4v1h-4zM521 848h6v1h-6zM527 849h2v1h-2zM529 850h3v1h-3zM532 851h2v1h-2zM534 850h1v1h-1zM535 848h1v2h-1zM536 847h1v1h-1zM537 846h1v1h-1zM538 845h1v1h-1zM539 843h1v2h-1zM540 842h1v1h-1zM541 841h4v1h-4zM545 840h8v1h-8zM553 841h8v1h-8zM561 842h6v1h-6zM567 841h4v1h-4zM571 840h4v1h-4zM575 839h4v1h-4zM579 838h3v1h-3zM582 839h1v1h-1zM583 840h1v2h-1zM584 842h1v1h-1zM585 843h1v1h-1zM586 844h1v1h-1zM587 845h1v2h-1zM588 847h1v1h-1zM589 848h1v1h-1zM590 847h1v1h-1zM591 846h1v1h-1zM592 845h1v1h-1zM593 844h1v1h-1zM594 843h1v1h-1zM595 842h1v1h-1zM596 841h1v1h-1zM597 840h1v1h-1zM598 841h1v1h-1zM599 842h1v1h-1zM600 843h1v1h-1zM601 844h1v1h-1zM602 845h1v1h-1zM603 846h1v1h-1zM604 847h1v1h-1zM605 848h1v2h-1zM606 850h1v2h-1zM607 852h1v3h-1zM608 855h1v2h-1zM609 857h1v3h-1zM610 860h1v2h-1zM611 862h1v3h-1zM612 865h1v2h-1zM613 867h1v2h-1zM614 868h3v1h-3zM617 867h5v1h-5zM622 868h2v1h-2zM624 869h1v1h-1zM625 870h2v1h-2zM627 871h2v1h-2zM629 871h1v2h-1zM630 868h1v3h-1zM631 865h1v3h-1zM632 862h1v3h-1zM633 859h1v3h-1zM634 856h1v3h-1zM635 853h1v3h-1zM636 850h1v3h-1zM637 848h1v2h-1zM638 849h1v1h-1zM639 850h1v1h-1zM640 851h1v1h-1zM641 852h1v2h-1zM642 854h1v1h-1zM643 855h1v1h-1zM644 856h1v1h-1zM645 857h1v1h-1zM646 858h2v1h-2zM648 859h1v1h-1zM649 860h2v1h-2zM651 861h2v1h-2zM653 862h1v1h-1zM654 863h2v1h-2zM656 864h1v1h-1zM657 865h2v1h-2zM659 866h2v1h-2zM661 867h2v1h-2zM663 866h4v1h-4zM667 865h3v1h-3zM670 864h2v1h-2zM672 863h2v1h-2zM674 862h2v1h-2zM676 861h2v1h-2zM678 862h2v1h-2zM680 863h2v1h-2zM682 864h2v1h-2zM684 865h2v1h-2zM686 864h1v1h-1zM687 863h1v1h-1zM688 862h1v1h-1zM689 860h1v2h-1zM690 859h1v1h-1zM691 858h1v1h-1zM692 857h1v1h-1zM693 856h2v1h-2zM695 855h2v1h-2zM697 854h3v1h-3zM700 853h3v1h-3zM703 854h2v1h-2zM705 855h3v1h-3zM708 856h3v1h-3zM711 857h4v1h-4zM715 858h4v1h-4zM719 857h2v1h-2zM721 856h3v1h-3zM724 855h2v1h-2zM726 856h1v1h-1zM727 857h1v2h-1zM728 859h1v1h-1zM729 860h1v1h-1zM730 861h1v1h-1zM731 862h1v2h-1zM732 864h1v1h-1zM733 865h1v1h-1zM734 864h1v1h-1zM735 863h1v1h-1zM736 862h1v1h-1zM737 861h2v1h-2zM739 860h1v1h-1zM740 859h1v1h-1zM741 858h9v1h-9zM750 857h1v1h-1zM751 856h2v1h-2zM753 855h1v1h-1zM754 854h1v1h-1zM755 853h2v1h-2zM757 852h2v1h-2zM759 851h2v1h-2zM761 850h3v1h-3zM764 849h3v1h-3zM767 850h4v1h-4zM771 851h6v1h-6zM777 852h5v1h-5zM782 853h1v2h-1zM783 855h1v1h-1zM784 856h1v2h-1zM785 858h1v1h-1zM786 859h1v2h-1zM787 861h1v1h-1zM788 862h1v2h-1zM789 864h1v1h-1zM790 863h2v1h-2zM792 862h2v1h-2zM794 861h2v1h-2zM796 860h2v1h-2zM798 861h1v2h-1zM799 863h1v2h-1zM800 865h1v2h-1zM801 867h1v2h-1zM802 869h1v2h-1zM803 871h1v2h-1zM804 873h1v2h-1zM805 875h1v1h-1zM806 874h1v1h-1zM807 872h1v2h-1zM808 871h1v1h-1zM809 870h1v1h-1zM810 869h1v1h-1zM811 867h1v2h-1zM812 866h1v1h-1zM813 865h2v1h-2zM815 866h4v1h-4zM819 867h3v1h-3zM822 865h1v2h-1zM823 864h1v1h-1zM824 863h1v1h-1zM825 861h1v2h-1zM826 860h1v1h-1zM827 859h1v1h-1zM828 857h1v2h-1zM829 856h2v1h-2zM831 855h4v1h-4zM835 854h3v1h-3zM838 855h2v1h-2zM840 856h1v1h-1zM841 857h2v1h-2zM843 858h2v1h-2zM845 859h1v1h-1zM846 857h1v2h-1zM847 856h1v1h-1zM848 855h1v1h-1zM849 853h1v2h-1zM850 852h1v1h-1zM851 851h1v1h-1zM852 849h1v2h-1zM853 848h9v1h-9zM862 849h2v1h-2zM864 850h2v1h-2zM866 851h2v1h-2zM868 852h2v1h-2zM870 851h1v1h-1zM871 850h1v1h-1zM872 849h1v1h-1zM873 848h1v1h-1zM874 847h1v1h-1zM875 846h1v1h-1zM876 845h1v1h-1zM877 844h1v2h-1zM878 846h1v2h-1zM879 848h1v2h-1zM880 850h1v2h-1zM881 852h1v3h-1zM882 855h1v2h-1zM883 857h1v2h-1zM884 859h1v2h-1zM885 861h1v2h-1zM886 860h1v2h-1zM887 859h1v1h-1zM888 857h1v2h-1zM889 856h1v1h-1zM890 854h1v2h-1zM891 853h1v1h-1zM892 851h1v2h-1zM893 850h1v1h-1zM894 849h2v1h-2zM896 848h1v1h-1zM897 847h2v1h-2zM899 846h2v1h-2zM901 845h2v1h-2zM903 846h2v1h-2zM905 847h3v1h-3zM908 848h10v1h-10zM918 849h1v1h-1zM919 850h1v1h-1zM920 851h1v1h-1zM921 852h2v1h-2zM923 853h1v1h-1zM924 854h1v1h-1zM925 855h1v1h-1zM926 854h1v1h-1zM927 853h1v1h-1zM928 852h1v1h-1zM929 850h1v2h-1zM930 849h1v1h-1zM931 848h1v1h-1zM932 847h1v1h-1zM933 846h1v1h-1zM934 847h2v1h-2zM936 848h2v1h-2zM938 849h2v1h-2zM940 850h2v1h-2zM942 849h1v1h-1zM943 848h2v1h-2zM945 847h1v1h-1zM946 846h1v1h-1zM947 845h2v1h-2zM949 844h4v1h-4zM953 845h5v1h-5zM958 844h2v1h-2zM960 843h1v1h-1zM961 842h2v1h-2zM963 841h2v1h-2zM965 840h1v1h-1zM966 841h1v1h-1zM967 842h1v1h-1zM968 843h1v1h-1zM969 844h1v1h-1zM970 845h1v1h-1zM971 846h1v1h-1zM972 847h1v1h-1zM973 848h1v1h-1zM974 847h1v1h-1zM975 845h1v2h-1zM976 844h1v1h-1zM977 843h1v1h-1zM978 842h1v1h-1zM979 840h1v2h-1zM980 839h1v1h-1zM981 838h2v1h-2zM983 837h4v1h-4zM987 836h4v1h-4zM991 835h2v1h-2zM993 834h3v1h-3zM996 833h3v1h-3zM999 832h4v1h-4zM1003 831h3v1h-3zM1006 830h2v1h-2zM1008 829h2v1h-2zM1010 828h2v1h-2zM1012 827h2v1h-2zM1014 826h1v1h-1zM1015 825h1v1h-1zM1016 824h1v1h-1zM1017 823h1v1h-1zM1018 822h1v1h-1zM1019 821h1v1h-1zM1020 820h1v1h-1zM1021 819h1v1h-1zM1022 820h1v2h-1zM1023 822h1v1h-1zM1024 823h1v2h-1zM1025 825h1v1h-1zM1026 826h1v2h-1zM1027 828h1v1h-1zM1028 829h1v2h-1zM1029 831h1v1h-1zM1030 829h1v2h-1zM1031 828h1v1h-1zM1032 827h1v1h-1zM1033 825h1v2h-1zM1034 824h1v1h-1zM1035 823h1v1h-1zM1036 821h1v2h-1zM1037 820h1v1h-1zM1038 819h1v1h-1zM1039 818h1v1h-1zM1040 817h1v1h-1zM1041 816h2v1h-2zM1043 815h1v1h-1zM1044 814h1v1h-1zM1045 813h2v1h-2zM1047 812h4v1h-4zM1051 811h11v1h-11zM1062 810h1v1h-1zM1063 809h1v1h-1zM1064 808h1v1h-1zM1065 807h1v1h-1zM1066 806h1v1h-1zM1067 805h1v1h-1zM1068 804h1v1h-1zM1069 803h1v1h-1zM1070 802h2v1h-2zM1072 801h2v1h-2zM1074 800h2v1h-2zM1076 799h5v1h-5zM1081 798h5v1h-5zM1086 797h1v1h-1zM1087 796h1v1h-1zM1088 795h1v1h-1zM1089 794h2v1h-2zM1091 793h1v1h-1zM1092 792h1v1h-1zM1093 791h12v1h-12zM1105 792h6v1h-6zM1111 793h4v1h-4zM1115 794h3v1h-3zM1118 795h1v1h-1zM1119 796h1v1h-1zM1120 797h1v1h-1zM1121 798h1v1h-1zM1122 799h1v1h-1zM1123 800h1v1h-1zM1124 801h1v1h-1zM1125 802h1v1h-1zM1126 803h1v1h-1zM1127 804h1v2h-1zM1128 806h1v1h-1zM1129 807h1v1h-1zM1130 808h1v1h-1zM1131 809h1v2h-1zM1132 811h1v1h-1zM1133 812h2v1h-2zM1135 811h2v1h-2zM1137 810h3v1h-3zM1140 809h5v1h-5zM1145 808h8v1h-8zM1153 807h5v1h-5zM1158 808h2v1h-2zM1160 809h2v1h-2zM1162 810h2v1h-2zM1164 811h5v1h-5zM1169 810h5v1h-5zM1174 809h2v1h-2zM1176 808h1v1h-1zM1177 807h2v1h-2zM1179 806h2v1h-2zM1181 805h1v1h-1zM1182 803h1v2h-1zM1183 801h1v2h-1zM1184 800h1v1h-1zM1185 798h1v2h-1zM1186 797h1v1h-1zM1187 795h1v2h-1zM1188 793h1v2h-1zM1189 792h1v1h-1zM1190 793h2v1h-2zM1192 794h2v1h-2zM1194 795h2v1h-2zM1196 796h2v1h-2zM1198 797h2v1h-2zM1200 798h1v1h-1zM1201 799h2v1h-2zM1203 800h2v1h-2zM1205 801h1v1h-1zM1206 802h1v1h-1zM1207 803h1v2h-1zM1208 805h1v1h-1zM1209 806h1v1h-1zM1210 807h1v1h-1zM1211 808h1v2h-1zM1212 810h1v1h-1zM1213 811h1v1h-1zM1214 810h2v1h-2zM1216 809h1v1h-1zM1217 808h2v1h-2zM1219 807h2v1h-2zM1221 806h1v1h-1zM1222 807h2v1h-2zM1224 808h1v1h-1zM1225 809h2v1h-2zM1227 810h2v1h-2zM1229 811h1v1h-1zM1230 809h1v2h-1zM1231 807h1v2h-1zM1232 805h1v2h-1zM1233 804h1v1h-1zM1234 802h1v2h-1zM1235 800h1v2h-1zM1236 798h1v2h-1zM1237 797h2v1h-2zM1239 796h2v1h-2zM1241 795h3v1h-3zM1244 794h2v1h-2zM1246 793h2v1h-2zM1248 792h2v1h-2zM1250 791h2v1h-2zM1252 790h2v1h-2zM1254 789h2v1h-2zM1256 788h2v1h-2zM1258 787h2v1h-2zM1260 786h3v1h-3zM1263 785h4v1h-4zM1267 784h6v1h-6zM1273 783h5v1h-5zM1278 784h1v2h-1zM1279 786h1v2h-1zM1280 788h1v2h-1zM1281 790h1v1h-1zM1282 791h1v2h-1zM1283 793h1v2h-1zM1284 795h1v2h-1zM1285 797h2v1h-2zM1287 796h4v1h-4zM1291 795h4v1h-4zM1295 794h4v1h-4zM1299 793h4v1h-4zM1303 792h4v1h-4zM1307 791h3v1h-3zM1310 790h2v1h-2zM1312 789h1v1h-1zM1313 788h2v1h-2zM1315 787h2v1h-2zM1317 786h1v1h-1zM1318 785h2v1h-2zM1320 784h2v1h-2zM1322 783h2v1h-2zM1324 782h11v1h-11zM1335 781h4v1h-4zM1339 780h6v1h-6zM1345 779h5v1h-5zM1349 780h1v1h-1zM1350 781h1v2h-1zM1351 783h1v2h-1zM1352 785h1v2h-1zM1353 787h1v2h-1zM1354 789h1v2h-1zM1355 791h1v2h-1zM1356 793h1v2h-1zM1357 795h1v3h-1zM1358 798h1v2h-1zM1359 800h1v2h-1zM1360 802h1v2h-1zM1361 804h1v3h-1zM1362 807h1v2h-1zM1363 809h1v2h-1zM1364 811h1v2h-1zM1365 813h1v2h-1zM1366 813h2v1h-2zM1368 812h2v1h-2zM1370 811h2v1h-2zM1372 810h2v1h-2zM1374 809h1v1h-1zM1375 808h2v1h-2zM1377 807h1v1h-1zM1378 806h1v1h-1zM1379 805h2v1h-2zM1381 804h2v1h-2zM1383 803h2v1h-2zM1385 802h3v1h-3zM1388 801h5v1h-5zM1393 802h5v1h-5zM1398 803h1v1h-1zM1399 804h1v2h-1zM1400 806h1v1h-1zM1401 807h1v1h-1zM1402 808h1v1h-1zM1403 809h1v2h-1zM1404 811h1v1h-1zM1405 812h1v1h-1zM1406 813h1v2h-1zM1407 815h1v2h-1zM1408 817h1v1h-1zM1409 818h1v2h-1zM1410 820h1v1h-1zM1411 821h1v2h-1zM1412 823h1v2h-1zM1413 825h1v1h-1zM1414 824h1v1h-1zM1415 823h1v1h-1zM1416 822h1v1h-1zM1417 821h2v1h-2zM1419 820h1v1h-1zM1420 819h1v1h-1zM1421 818h2v1h-2zM1423 817h2v1h-2zM1425 816h3v1h-3zM1428 815h3v1h-3zM1431 814h4v1h-4zM1435 813h3v1h-3z" fill="#1E90FF"/>
<line x1="1177.6" y1="327.0" x2="1345.9" y2="90.6" stroke="#FF0000" stroke-width="4"/>
<polygon points="1352.0,82.0 1349.0,95.2 1340.5,89.2" fill="#FF0000"/>
<line x1="1352.0" y1="84.0" x2="1378.0" y2="147.3" stroke="#FF0000" stroke-width="4"/>
<polygon points="1382.0,157.0 1372.4,147.4 1382.1,143.5" fill="#FF0000"/>
<line x1="1381.0" y1="162.0" x2="1468.1" y2="86.9" stroke="#FF0000" stroke-width="4"/>
<polygon points="1476.0,80.0 1469.9,92.1 1463.1,84.2" fill="#FF0000"/>
<line x1="1364.0" y1="600.0" x2="1438.3" y2="630.1" stroke="#FF0000" stroke-width="4.8"/>
<polygon points="1448.0,634.0 1434.3,634.5 1438.5,624.1" fill="#FF0000"/>
<line x1="1336.5" y1="785.0" x2="1410.8" y2="826.4" stroke="#FF0000" stroke-width="5.5"/>
<polygon points="1420.0,831.5 1406.3,830.5 1411.9,820.4" fill="#FF0000"/>
<line x1="1416.0" y1="832.0" x2="1458.1" y2="816.6" stroke="#FF0000" stroke-width="5.3"/>
<polygon points="1468.0,813.0 1458.2,822.7 1454.3,811.8" fill="#FF0000"/>
<rect x="1649" y="48" width="2" height="1" fill="#000"/>
<text x="1654.5" y="52" font-size="10" letter-spacing="-0.55" fill="#000" stroke="#000" stroke-width="0.15" style="font-family:'Liberation Sans',sans-serif;">135.080</text>
<rect x="1649" y="81" width="2" height="1" fill="#000"/>
<text x="1654.5" y="85" font-size="10" letter-spacing="-0.55" fill="#000" stroke="#000" stroke-width="0.15" style="font-family:'Liberation Sans',sans-serif;">134.495</text>
<rect x="1649" y="114" width="2" height="1" fill="#000"/>
<text x="1654.5" y="118" font-size="10" letter-spacing="-0.55" fill="#000" stroke="#000" stroke-width="0.15" style="font-family:'Liberation Sans',sans-serif;">133.910</text>
<rect x="1649" y="147" width="2" height="1" fill="#000"/>
<text x="1654.5" y="151" font-size="10" letter-spacing="-0.55" fill="#000" stroke="#000" stroke-width="0.15" style="font-family:'Liberation Sans',sans-serif;">133.325</text>
<rect x="1649" y="180" width="2" height="1" fill="#000"/>
<text x="1654.5" y="184" font-size="10" letter-spacing="-0.55" fill="#000" stroke="#000" stroke-width="0.15" style="font-family:'Liberation Sans',sans-serif;">132.740</text>
<rect x="1649" y="213" width="2" height="1" fill="#000"/>
<text x="1654.5" y="217" font-size="10" letter-spacing="-0.55" fill="#000" stroke="#000" stroke-width="0.15" style="font-family:'Liberation Sans',sans-serif;">132.155</text>
<rect x="1649" y="246" width="2" height="1" fill="#000"/>
<text x="1654.5" y="250" font-size="10" letter-spacing="-0.55" fill="#000" stroke="#000" stroke-width="0.15" style="font-family:'Liberation Sans',sans-serif;">131.570</text>
<rect x="1649" y="279" width="2" height="1" fill="#000"/>
<text x="1654.5" y="283" font-size="10" letter-spacing="-0.55" fill="#000" stroke="#000" stroke-width="0.15" style="font-family:'Liberation Sans',sans-serif;">130.985</text>
<rect x="1649" y="312" width="2" height="1" fill="#000"/>
<text x="1654.5" y="316" font-size="10" letter-spacing="-0.55" fill="#000" stroke="#000" stroke-width="0.15" style="font-family:'Liberation Sans',sans-serif;">130.400</text>
<rect x="1649" y="345" width="2" height="1" fill="#000"/>
<text x="1654.5" y="349" font-size="10" letter-spacing="-0.55" fill="#000" stroke="#000" stroke-width="0.15" style="font-family:'Liberation Sans',sans-serif;">129.800</text>
<rect x="1649" y="378" width="2" height="1" fill="#000"/>
<text x="1654.5" y="382" font-size="10" letter-spacing="-0.55" fill="#000" stroke="#000" stroke-width="0.15" style="font-family:'Liberation Sans',sans-serif;">129.215</text>
<rect x="1649" y="411" width="2" height="1" fill="#000"/>
<text x="1654.5" y="415" font-size="10" letter-spacing="-0.55" fill="#000" stroke="#000" stroke-width="0.15" style="font-family:'Liberation Sans',sans-serif;">128.630</text>
<rect x="1649" y="444" width="2" height="1" fill="#000"/>
<text x="1654.5" y="448" font-size="10" letter-spacing="-0.55" fill="#000" stroke="#000" stroke-width="0.15" style="font-family:'Liberation Sans',sans-serif;">128.045</text>
<rect x="1649" y="477" width="2" height="1" fill="#000"/>
<text x="1654.5" y="481" font-size="10" letter-spacing="-0.55" fill="#000" stroke="#000" stroke-width="0.15" style="font-family:'Liberation Sans',sans-serif;">127.460</text>
<rect x="1649" y="510" width="2" height="1" fill="#000"/>
<text x="1654.5" y="514" font-size="10" letter-spacing="-0.55" fill="#000" stroke="#000" stroke-width="0.15" style="font-family:'Liberation Sans',sans-serif;">126.875</text>
<rect x="1649" y="543" width="2" height="1" fill="#000"/>
<text x="1654.5" y="547" font-size="10" letter-spacing="-0.55" fill="#000" stroke="#000" stroke-width="0.15" style="font-family:'Liberation Sans',sans-serif;">126.290</text>
<rect x="1649" y="576" width="2" height="1" fill="#000"/>
<text x="1654.5" y="580" font-size="10" letter-spacing="-0.55" fill="#000" stroke="#000" stroke-width="0.15" style="font-family:'Liberation Sans',sans-serif;">125.705</text>
<rect x="1650" y="28" width="41" height="11" fill="#FF0000"/>
<text x="1654.5" y="37" font-size="10" letter-spacing="-0.55" fill="#fff" stroke="#fff" stroke-width="0.15" style="font-family:'Liberation Sans',sans-serif;">135.342</text>
<rect x="1650" y="59" width="41" height="11" fill="#FF0000"/>
<text x="1654.5" y="68" font-size="10" letter-spacing="-0.55" fill="#fff" stroke="#fff" stroke-width="0.15" style="font-family:'Liberation Sans',sans-serif;">134.775</text>
<rect x="1650" y="84" width="41" height="11" fill="#000"/>
<text x="1654.5" y="93" font-size="10" letter-spacing="-0.55" fill="#fff" stroke="#fff" stroke-width="0.15" style="font-family:'Liberation Sans',sans-serif;">134.354</text>
<rect x="1650" y="90" width="41" height="11" fill="#32CD32"/>
<text x="1654.5" y="99" font-size="10" letter-spacing="-0.55" fill="#fff" stroke="#fff" stroke-width="0.15" style="font-family:'Liberation Sans',sans-serif;">134.225</text>
<rect x="1650" y="120" width="41" height="11" fill="#0000FF"/>
<text x="1654.5" y="129" font-size="10" letter-spacing="-0.55" fill="#fff" stroke="#fff" stroke-width="0.15" style="font-family:'Liberation Sans',sans-serif;">133.698</text>
<rect x="1650" y="151" width="41" height="11" fill="#0000FF"/>
<text x="1654.5" y="160" font-size="10" letter-spacing="-0.55" fill="#fff" stroke="#fff" stroke-width="0.15" style="font-family:'Liberation Sans',sans-serif;">133.154</text>
<rect x="1649" y="583" width="2" height="1" fill="#000"/>
<text x="1652.5" y="592" font-size="10" letter-spacing="-0.55" fill="#000" stroke="#000" stroke-width="0.15" style="font-family:'Liberation Sans',sans-serif;">1.2093</text>
<rect x="1649" y="699" width="2" height="1" fill="#000"/>
<text x="1652.5" y="703" font-size="10" letter-spacing="-0.55" fill="#000" stroke="#000" stroke-width="0.15" style="font-family:'Liberation Sans',sans-serif;">0.00</text>
<rect x="1649" y="750" width="2" height="1" fill="#000"/>
<text x="1651.8" y="748" font-size="10" letter-spacing="-0.55" fill="#000" stroke="#000" stroke-width="0.15" style="font-family:'Liberation Sans',sans-serif;">-0.5287</text>
<rect x="1649" y="755" width="2" height="1" fill="#000"/>
<text x="1651.8" y="764" font-size="10" letter-spacing="-0.55" fill="#000" stroke="#000" stroke-width="0.15" style="font-family:'Liberation Sans',sans-serif;">100</text>
<text x="1651.8" y="793" font-size="10" letter-spacing="-0.55" fill="#000" stroke="#000" stroke-width="0.15" style="font-family:'Liberation Sans',sans-serif;">80</text>
<text x="1651.8" y="844" font-size="10" letter-spacing="-0.55" fill="#000" stroke="#000" stroke-width="0.15" style="font-family:'Liberation Sans',sans-serif;">50</text>
<text x="1651.8" y="905" font-size="10" letter-spacing="-0.55" fill="#000" stroke="#000" stroke-width="0.15" style="font-family:'Liberation Sans',sans-serif;">15</text>
<rect x="1649" y="926" width="2" height="1" fill="#000"/>
<text x="1651.8" y="924" font-size="10" letter-spacing="-0.55" fill="#000" stroke="#000" stroke-width="0.15" style="font-family:'Liberation Sans',sans-serif;">0</text>
<text x="4.5" y="38" font-size="10" letter-spacing="-0.35" fill="#000" stroke="#000" stroke-width="0.2" style="font-family:'Liberation Sans',sans-serif;">USDJPY-,H4&#160; 134.188 134.374 134.158 134.354</text>
<text x="-5.6" y="594" font-size="10" letter-spacing="-0.35" fill="#000" stroke="#000" stroke-width="0.2" style="font-family:'Liberation Sans',sans-serif;">MACD(12,26,9) 0.7132 0.8544</text>
<text x="-7" y="766.5" font-size="10" letter-spacing="-0.35" fill="#000" stroke="#000" stroke-width="0.2" style="font-family:'Liberation Sans',sans-serif;">RSI(14) 66.0512</text>
<rect x="-11" y="928" width="1" height="3" fill="#000"/>
<text x="-11.5" y="940" font-size="10" letter-spacing="-0.35" fill="#000" stroke="#000" stroke-width="0.2" style="font-family:'Liberation Sans',sans-serif;">29 Apr 2022</text>
<rect x="53" y="928" width="1" height="3" fill="#000"/>
<text x="52.5" y="940" font-size="10" letter-spacing="-0.35" fill="#000" stroke="#000" stroke-width="0.2" style="font-family:'Liberation Sans',sans-serif;">2 May 20:00</text>
<rect x="117" y="928" width="1" height="3" fill="#000"/>
<text x="116.5" y="940" font-size="10" letter-spacing="-0.35" fill="#000" stroke="#000" stroke-width="0.2" style="font-family:'Liberation Sans',sans-serif;">4 May 04:00</text>
<rect x="181" y="928" width="1" height="3" fill="#000"/>
<text x="180.5" y="940" font-size="10" letter-spacing="-0.35" fill="#000" stroke="#000" stroke-width="0.2" style="font-family:'Liberation Sans',sans-serif;">5 May 12:00</text>
<rect x="245" y="928" width="1" height="3" fill="#000"/>
<text x="244.5" y="940" font-size="10" letter-spacing="-0.35" fill="#000" stroke="#000" stroke-width="0.2" style="font-family:'Liberation Sans',sans-serif;">8 May 23:00</text>
<rect x="309" y="928" width="1" height="3" fill="#000"/>
<text x="308.5" y="940" font-size="10" letter-spacing="-0.35" fill="#000" stroke="#000" stroke-width="0.2" style="font-family:'Liberation Sans',sans-serif;">10 May 04:00</text>
<rect x="373" y="928" width="1" height="3" fill="#000"/>
<text x="372.5" y="940" font-size="10" letter-spacing="-0.35" fill="#000" stroke="#000" stroke-width="0.2" style="font-family:'Liberation Sans',sans-serif;">11 May 12:00</text>
<rect x="437" y="928" width="1" height="3" fill="#000"/>
<text x="436.5" y="940" font-size="10" letter-spacing="-0.35" fill="#000" stroke="#000" stroke-width="0.2" style="font-family:'Liberation Sans',sans-serif;">12 May 20:00</text>
<rect x="501" y="928" width="1" height="3" fill="#000"/>
<text x="500.5" y="940" font-size="10" letter-spacing="-0.35" fill="#000" stroke="#000" stroke-width="0.2" style="font-family:'Liberation Sans',sans-serif;">16 May 04:00</text>
<rect x="565" y="928" width="1" height="3" fill="#000"/>
<text x="564.5" y="940" font-size="10" letter-spacing="-0.35" fill="#000" stroke="#000" stroke-width="0.2" style="font-family:'Liberation Sans',sans-serif;">17 May 12:00</text>
<rect x="629" y="928" width="1" height="3" fill="#000"/>
<text x="628.5" y="940" font-size="10" letter-spacing="-0.35" fill="#000" stroke="#000" stroke-width="0.2" style="font-family:'Liberation Sans',sans-serif;">18 May 20:00</text>
<rect x="693" y="928" width="1" height="3" fill="#000"/>
<text x="692.5" y="940" font-size="10" letter-spacing="-0.35" fill="#000" stroke="#000" stroke-width="0.2" style="font-family:'Liberation Sans',sans-serif;">20 May 04:00</text>
<rect x="757" y="928" width="1" height="3" fill="#000"/>
<text x="756.5" y="940" font-size="10" letter-spacing="-0.35" fill="#000" stroke="#000" stroke-width="0.2" style="font-family:'Liberation Sans',sans-serif;">23 May 12:00</text>
<rect x="821" y="928" width="1" height="3" fill="#000"/>
<text x="820.5" y="940" font-size="10" letter-spacing="-0.35" fill="#000" stroke="#000" stroke-width="0.2" style="font-family:'Liberation Sans',sans-serif;">24 May 20:00</text>
<rect x="885" y="928" width="1" height="3" fill="#000"/>
<text x="884.5" y="940" font-size="10" letter-spacing="-0.35" fill="#000" stroke="#000" stroke-width="0.2" style="font-family:'Liberation Sans',sans-serif;">26 May 04:00</text>
<rect x="949" y="928" width="1" height="3" fill="#000"/>
<text x="948.5" y="940" font-size="10" letter-spacing="-0.35" fill="#000" stroke="#000" stroke-width="0.2" style="font-family:'Liberation Sans',sans-serif;">27 May 12:00</text>
<rect x="1013" y="928" width="1" height="3" fill="#000"/>
<text x="1012.5" y="940" font-size="10" letter-spacing="-0.35" fill="#000" stroke="#000" stroke-width="0.2" style="font-family:'Liberation Sans',sans-serif;">30 May 20:00</text>
<rect x="1077" y="928" width="1" height="3" fill="#000"/>
<text x="1076.5" y="940" font-size="10" letter-spacing="-0.35" fill="#000" stroke="#000" stroke-width="0.2" style="font-family:'Liberation Sans',sans-serif;">1 Jun 04:00</text>
<rect x="1141" y="928" width="1" height="3" fill="#000"/>
<text x="1140.5" y="940" font-size="10" letter-spacing="-0.35" fill="#000" stroke="#000" stroke-width="0.2" style="font-family:'Liberation Sans',sans-serif;">2 Jun 12:00</text>
<rect x="1205" y="928" width="1" height="3" fill="#000"/>
<text x="1204.5" y="940" font-size="10" letter-spacing="-0.35" fill="#000" stroke="#000" stroke-width="0.2" style="font-family:'Liberation Sans',sans-serif;">5 Jun 23:00</text>
<rect x="1269" y="928" width="1" height="3" fill="#000"/>
<text x="1268.5" y="940" font-size="10" letter-spacing="-0.35" fill="#000" stroke="#000" stroke-width="0.2" style="font-family:'Liberation Sans',sans-serif;">7 Jun 04:00</text>
<rect x="1333" y="928" width="1" height="3" fill="#000"/>
<text x="1332.5" y="940" font-size="10" letter-spacing="-0.35" fill="#000" stroke="#000" stroke-width="0.2" style="font-family:'Liberation Sans',sans-serif;">8 Jun 12:00</text>
<rect x="1397" y="928" width="1" height="3" fill="#000"/>
<text x="1396.5" y="940" font-size="10" letter-spacing="-0.35" fill="#000" stroke="#000" stroke-width="0.2" style="font-family:'Liberation Sans',sans-serif;">9 Jun 20:00</text>
</svg>
<div id="tb"></div><div id="tbs1"></div><div id="tbs2"></div>
<svg width="1696" height="22" viewBox="0 0 1696 22" style="position:absolute;left:0;top:0">
<defs>
<pattern id="chk" width="2" height="2" patternUnits="userSpaceOnUse"><rect width="2" height="2" fill="#fafafa"/><rect width="1" height="1" fill="#efefef"/><rect x="1" y="1" width="1" height="1" fill="#efefef"/></pattern>
<linearGradient id="gold" x1="0" y1="0" x2="1" y2="1"><stop offset="0" stop-color="#f8dc50"/><stop offset=".5" stop-color="#e8b818"/><stop offset="1" stop-color="#a87408"/></linearGradient>
<linearGradient id="grn" x1="0" y1="0" x2="0" y2="1"><stop offset="0" stop-color="#6cf06c"/><stop offset="1" stop-color="#12a812"/></linearGradient>
<linearGradient id="blu" x1="0" y1="0" x2="0" y2="1"><stop offset="0" stop-color="#58b4ff"/><stop offset="1" stop-color="#0a5cc8"/></linearGradient>
<linearGradient id="cld" x1="0" y1="0" x2="0" y2="1"><stop offset="0" stop-color="#ffffff"/><stop offset="1" stop-color="#b8cce8"/></linearGradient>
<radialGradient id="redc" cx=".4" cy=".3" r=".8"><stop offset="0" stop-color="#f05038"/><stop offset="1" stop-color="#c01808"/></radialGradient>
<linearGradient id="redc2" x1="0" y1="0" x2="0" y2="1"><stop offset="0" stop-color="#ea5838"/><stop offset="1" stop-color="#cc1c0c"/></linearGradient>
<linearGradient id="lens" x1="0" y1="0" x2="0" y2="1"><stop offset="0" stop-color="#eaf8ff"/><stop offset="1" stop-color="#bfe3f5"/></linearGradient>
</defs>
<path d="M3.4,8.9 5,10.5 3.4,12.1 1.8,10.5Z" fill="#fff" stroke="#111" stroke-width="0.9"/>
<ellipse cx="0" cy="18" rx="1.8" ry="1.6" fill="#c89010"/>
<rect x="9" y="0" width="1" height="20" fill="#a0a0a0"/><rect x="10" y="0" width="1" height="20" fill="#fbfbfb"/>
<path d="M20.5,2.5H27.5L31.0,6.0V15.0Q31.0,16.0 30.0,16.0H20.5Q19.5,16.0 19.5,15.0V3.5Q19.5,2.5 20.5,2.5Z" fill="#fdfdfd" stroke="#6e6e6e" stroke-width="1"/>
<path d="M27.5,2.5V6.0H31.0" fill="#e4e4e4" stroke="#6e6e6e" stroke-width=".8"/>
<rect x="21.5" y="4.5" width="3" height="1.6" fill="#9a9a9a"/><path d="M21.5,8.5h6M21.5,10.5h4M21.5,12.5h3" stroke="#9a9a9a" stroke-width="1"/>
<path d="M27.4,8.6H30.6V12.4H34.4V15.6H30.6V19.4H27.4V15.6H23.6V12.4H27.4Z" fill="url(#grn)" stroke="#0c8c0c" stroke-width="1"/>
<text x="37.9" y="13.2" font-size="11.4" letter-spacing="0.6" fill="#000" stroke="#000" stroke-width="0.3" style="font-family:'Liberation Sans','Noto Sans CJK SC',sans-serif">新订单</text>
<path d="M91.3,3.2 101.6,9.5 101.6,12.8 94,17.9 86.2,12.3 89.6,8Z" fill="url(#gold)" stroke="#9a6c08" stroke-width=".8"/>
<path d="M86.6,12.6 94,16 101.4,10.6" fill="none" stroke="#fff2a8" stroke-width=".9" opacity=".8"/>
<path d="M116.5,3 122,2.2 127.3,3.2 127.3,12 116.5,12Z" fill="url(#blu)" stroke="#0a58c0" stroke-width=".8"/>
<path d="M119,3 119,11" stroke="#bfe0ff" stroke-width="1"/><rect x="121" y="5.6" width="5" height="2" fill="#e8f4ff"/>
<path d="M117,17.5Q114,17.5 114.2,14.8Q114.6,12.6 117,12.8Q118.4,10.4 121.4,11Q123.4,9.8 125,12Q128,11.2 128.8,13.6Q130.4,14.2 130,16Q129.6,17.6 127.6,17.5Z" fill="url(#cld)" stroke="#4a6cb4" stroke-width=".9"/>
<g fill="none" stroke-width="1.2"><circle cx="149.7" cy="9.7" r="7.4" stroke="#7aa0dc"/><circle cx="149.7" cy="9.7" r="4.6" stroke="#5a8cd8"/></g>
<path d="M149.7,9.7 149.7,17.6A7.9,7.9 0 0 0 153,2.6Z" fill="#9ccc9c" opacity=".75"/>
<path d="M149.7,9.7V17.4" stroke="#18a018" stroke-width="1.6"/><circle cx="149.7" cy="9.5" r="1.9" fill="#2858d0"/>
<path d="M170,10 184,10 177.3,17.6Z" fill="#f4d848" stroke="#c8a010" stroke-width=".7"/>
<ellipse cx="177" cy="7.6" rx="7.6" ry="2.6" fill="#4a9cdc" stroke="#2878b8" stroke-width=".7"/><path d="M172.8,7Q172.6,2.4 177,2.4Q181.4,2.4 181.2,7Q177,8.6 172.8,7Z" fill="#6cb8ec" stroke="#2878b8" stroke-width=".7"/>
<circle cx="181.6" cy="14" r="4" fill="url(#redc)"/><rect x="180.2" y="12.6" width="2.8" height="2.8" fill="#fff"/>
<text x="190.7" y="13.2" font-size="11.4" letter-spacing="0.6" fill="#000" stroke="#000" stroke-width="0.3" style="font-family:'Liberation Sans','Noto Sans CJK SC',sans-serif">自动交易</text>
<rect x="245" y="0" width="1" height="22" fill="#a0a0a0"/><rect x="246" y="0" width="1" height="22" fill="#fbfbfb"/>
<rect x="249" y="0" width="3" height="1" fill="#8e8e8e"/>
<rect x="249" y="2" width="3" height="1" fill="#8e8e8e"/>
<rect x="249" y="4" width="3" height="1" fill="#8e8e8e"/>
<rect x="249" y="6" width="3" height="1" fill="#8e8e8e"/>
<rect x="249" y="8" width="3" height="1" fill="#8e8e8e"/>
<rect x="249" y="10" width="3" height="1" fill="#8e8e8e"/>
<rect x="249" y="12" width="3" height="1" fill="#8e8e8e"/>
<rect x="249" y="14" width="3" height="1" fill="#8e8e8e"/>
<rect x="249" y="16" width="3" height="1" fill="#8e8e8e"/>
<rect x="249" y="18" width="3" height="1" fill="#8e8e8e"/>
<g stroke="#555" stroke-width="1.3" fill="none" shape-rendering="auto"><path d="M263.5,4.6V17.8M261.1,15.6H273.7"/></g>
<polygon points="263.5,3.6 261.6,6.4 265.4,6.4" fill="#555"/><polygon points="275.1,15.6 272.3,13.7 272.3,17.5" fill="#555"/>
<path d="M269.5,5.3V13.9M269.5,6.4H271.9M267,12.4H269.5" stroke="#0a8a0a" stroke-width="1.5" fill="none"/>
<rect x="283" y="0" width="25" height="20" fill="url(#chk)"/>
<rect x="283" y="0" width="1" height="20" fill="#808080"/>
<rect x="283" y="20" width="26" height="1" fill="#fff"/><rect x="308" y="0" width="1" height="21" fill="#fff"/>
<g stroke="#555" stroke-width="1.3" fill="none" shape-rendering="auto"><path d="M291.4,4.6V17.8M289.0,15.6H301.59999999999997"/></g>
<polygon points="291.4,3.6 289.5,6.4 293.29999999999995,6.4" fill="#555"/><polygon points="303.0,15.6 300.2,13.7 300.2,17.5" fill="#555"/>
<path d="M297.5,2.2V14" stroke="#0c900c" stroke-width="1.3"/><rect x="295.4" y="4.4" width="4.2" height="7.4" fill="url(#grn)" stroke="#0c900c" stroke-width="1"/>
<g stroke="#555" stroke-width="1.3" fill="none" shape-rendering="auto"><path d="M319.3,4.6V17.8M316.90000000000003,15.6H329.5"/></g>
<polygon points="319.3,3.6 317.40000000000003,6.4 321.2,6.4" fill="#555"/><polygon points="330.90000000000003,15.6 328.1,13.7 328.1,17.5" fill="#555"/>
<path d="M318.1,12.6Q321.5,9.6 323.2,7.9Q324.2,7 325.2,7.9Q327.5,10 329.8,11" stroke="#1c9c1c" stroke-width="1.4" fill="none"/>
<rect x="340" y="0" width="1" height="20" fill="#a0a0a0"/><rect x="341" y="0" width="1" height="20" fill="#fbfbfb"/>
<path d="M359,12.3 364.6,17.2" stroke="#b89010" stroke-width="3.4" stroke-linecap="round"/><path d="M359,12.1 364.4,16.8" stroke="#f0d850" stroke-width="1.6" stroke-linecap="round"/>
<circle cx="355" cy="8" r="5.6" fill="url(#lens)" stroke="#3a80c8" stroke-width="1.4"/>
<path d="M351.8,8H358.2" stroke="#3a7ca8" stroke-width="1.8"/>
<path d="M355,4.8V11.2" stroke="#3a7ca8" stroke-width="1.8"/>
<path d="M387,12.3 392.6,17.2" stroke="#b89010" stroke-width="3.4" stroke-linecap="round"/><path d="M387,12.1 392.4,16.8" stroke="#f0d850" stroke-width="1.6" stroke-linecap="round"/>
<circle cx="383" cy="8" r="5.6" fill="url(#lens)" stroke="#3a80c8" stroke-width="1.4"/>
<path d="M379.8,8H386.2" stroke="#3a7ca8" stroke-width="1.8"/>
<rect x="405" y="2.2" width="7.8" height="7.6" rx="1" fill="#2c9018"/><rect x="405" y="2.2" width="7.8" height="3" rx="1" fill="#48b030"/><rect x="406.2" y="5.4" width="5.4" height="3.6" fill="#fff"/><rect x="407" y="6.5" width="3.8" height="1" fill="#48b030" opacity=".6"/><rect x="406" y="3.2" width="1" height="1" fill="#fff"/>
<rect x="413.2" y="2.2" width="7.8" height="7.6" rx="1" fill="#1038b8"/><rect x="413.2" y="2.2" width="7.8" height="3" rx="1" fill="#3868e0"/><rect x="414.4" y="5.4" width="5.4" height="3.6" fill="#fff"/><rect x="415.2" y="6.5" width="3.8" height="1" fill="#3868e0" opacity=".6"/><rect x="414.2" y="3.2" width="1" height="1" fill="#fff"/>
<rect x="405" y="10.2" width="7.8" height="7.6" rx="1" fill="#1038b8"/><rect x="405" y="10.2" width="7.8" height="3" rx="1" fill="#3868e0"/><rect x="406.2" y="13.399999999999999" width="5.4" height="3.6" fill="#fff"/><rect x="407" y="14.5" width="3.8" height="1" fill="#3868e0" opacity=".6"/><rect x="406" y="11.2" width="1" height="1" fill="#fff"/>
<rect x="413.2" y="10.2" width="7.8" height="7.6" rx="1" fill="#2c9018"/><rect x="413.2" y="10.2" width="7.8" height="3" rx="1" fill="#48b030"/><rect x="414.4" y="13.399999999999999" width="5.4" height="3.6" fill="#fff"/><rect x="415.2" y="14.5" width="3.8" height="1" fill="#48b030" opacity=".6"/><rect x="414.2" y="11.2" width="1" height="1" fill="#fff"/>
<rect x="430" y="0" width="1" height="20" fill="#a0a0a0"/><rect x="431" y="0" width="1" height="20" fill="#fbfbfb"/>
<rect x="435" y="0" width="25" height="20" fill="url(#chk)"/>
<rect x="435" y="0" width="1" height="20" fill="#808080"/>
<rect x="435" y="20" width="26" height="1" fill="#fff"/><rect x="460" y="0" width="1" height="21" fill="#fff"/>
<g stroke="#555" stroke-width="1.3" fill="none" shape-rendering="auto"><path d="M443.4,4.6V17.8M441.0,15.6H453.59999999999997"/></g>
<polygon points="443.4,3.6 441.5,6.4 445.29999999999995,6.4" fill="#555"/><polygon points="455.0,15.6 452.2,13.7 452.2,17.5" fill="#555"/>
<path d="M448.2,6 448.2,12.6 452.2,9.3Z" fill="#58d858" stroke="#0c900c" stroke-width="1"/>
<rect x="463" y="0" width="25" height="20" fill="url(#chk)"/>
<rect x="463" y="0" width="1" height="20" fill="#808080"/>
<rect x="463" y="20" width="26" height="1" fill="#fff"/><rect x="488" y="0" width="1" height="21" fill="#fff"/>
<g stroke="#555" stroke-width="1.3" fill="none" shape-rendering="auto"><path d="M471.4,4.6V17.8M469.0,15.6H481.59999999999997"/></g>
<polygon points="471.4,3.6 469.5,6.4 473.29999999999995,6.4" fill="#555"/><polygon points="483.0,15.6 480.2,13.7 480.2,17.5" fill="#555"/>
<path d="M477.5,4.1V13.6" stroke="#1070b0" stroke-width="1.5"/><path d="M483,9.3H479" stroke="#e05000" stroke-width="1.3"/><path d="M478.2,9.3 481,7.2 480.4,9.3 481,11.4Z" fill="#e05000"/>
<rect x="492" y="0" width="1" height="20" fill="#a0a0a0"/><rect x="493" y="0" width="1" height="20" fill="#fbfbfb"/>
<path d="M503.5,2.5H510.0L513.5,6.0V14.5Q513.5,15.5 512.5,15.5H503.5Q502.5,15.5 502.5,14.5V3.5Q502.5,2.5 503.5,2.5Z" fill="#fdfdfd" stroke="#6e6e6e" stroke-width="1"/>
<path d="M510.0,2.5V6.0H513.5" fill="#e4e4e4" stroke="#6e6e6e" stroke-width=".8"/>
<text x="504.4" y="12.6" font-size="10" font-style="italic" fill="#5a5030" style="font-family:'Liberation Serif',serif">f</text>
<path d="M510.4,8.6H513.6V12.4H517.4V15.6H513.6V19.4H510.4V15.6H506.6V12.4H510.4Z" fill="url(#grn)" stroke="#0c8c0c" stroke-width="1"/>
<polygon points="523.6,9 529.2,9 526.4,12.2" fill="#000"/>
<circle cx="548" cy="9.7" r="7" fill="#fff" stroke="url(#blu)" stroke-width="2.4"/><circle cx="548" cy="9.7" r="8" fill="none" stroke="#0a50b0" stroke-width=".5"/>
<path d="M547.4,5.6V10H550.6" stroke="#111" stroke-width="1.4" fill="none"/>
<g fill="#999"><rect x="547.6" y="14" width="1" height="1"/><rect x="543.4" y="9.4" width="1" height="1"/><rect x="552" y="9.4" width="1" height="1"/></g>
<polygon points="562.6,9 568.2,9 565.4,12.2" fill="#000"/>
<rect x="579.4" y="3.2" width="15.6" height="13.8" rx="1" fill="#fff" stroke="#3070c0" stroke-width="1.4"/><rect x="579.4" y="3.2" width="15.6" height="2.6" fill="#4a90e0"/><rect x="580" y="10.6" width="14.4" height="1" fill="#3070c0"/>
<path d="M581.6,9.4h1.6l1.6,-1.2h1.4l1.4,-1h1.6l1.2,1h1.6l1.4,-1" stroke="#a02008" stroke-width="1.3" fill="none"/>
<path d="M581.8,14.6h1.4l1.4,-1h1.4l1.2,1h1.2l2,-2.2 2,2.4" stroke="#109020" stroke-width="1.3" fill="none"/>
<polygon points="601.6,9 607.2,9 604.4,12.2" fill="#000"/>
<rect x="613" y="0" width="1" height="22" fill="#a0a0a0"/><rect x="614" y="0" width="1" height="22" fill="#fbfbfb"/>
<rect x="617" y="0" width="3" height="1" fill="#8e8e8e"/>
<rect x="617" y="2" width="3" height="1" fill="#8e8e8e"/>
<rect x="617" y="4" width="3" height="1" fill="#8e8e8e"/>
<rect x="617" y="6" width="3" height="1" fill="#8e8e8e"/>
<rect x="617" y="8" width="3" height="1" fill="#8e8e8e"/>
<rect x="617" y="10" width="3" height="1" fill="#8e8e8e"/>
<rect x="617" y="12" width="3" height="1" fill="#8e8e8e"/>
<rect x="617" y="14" width="3" height="1" fill="#8e8e8e"/>
<rect x="617" y="16" width="3" height="1" fill="#8e8e8e"/>
<rect x="617" y="18" width="3" height="1" fill="#8e8e8e"/>
<rect x="623" y="0" width="25" height="20" fill="url(#chk)"/>
<rect x="623" y="0" width="1" height="20" fill="#808080"/>
<rect x="623" y="20" width="26" height="1" fill="#fff"/><rect x="648" y="0" width="1" height="21" fill="#fff"/>
<path d="M631.2,2.7V13.9L633.7,11.7 636.2,17.1 637.8,16 635.4,11.1 638.9,10.6Z" fill="#505050"/>
<path d="M663.5,3V9.4M663.5,11.6V17.8M656,10.5H662.4M664.6,10.5H671" stroke="#505050" stroke-width="1.4" fill="none"/>
<rect x="680" y="0" width="1" height="20" fill="#a0a0a0"/><rect x="681" y="0" width="1" height="20" fill="#fbfbfb"/>
<path d="M697.4,3.8V17.1" stroke="#505050" stroke-width="1.4"/>
<path d="M719.6,10.4H732.4" stroke="#505050" stroke-width="1.4"/>
<path d="M747.8,16.8 760.2,4.7" stroke="#505050" stroke-width="1.3"/>
<g stroke="#505050" stroke-width="1" fill="none"><path d="M774,11.5 787,3.6M775,15.6 788,7.6M774.5,13.5 787.5,5.6"/><path d="M777,9 776.4,15M780,7.4 779.4,13.2M783,5.6 782.4,11.4M786,3 785.4,9.6"/></g>
<text x="784.6" y="18.6" font-size="7" fill="#444" style="font-family:'Liberation Sans',sans-serif;font-weight:bold">E</text>
<path d="M803,3.4H816.2" stroke="#505050" stroke-width="1" stroke-dasharray="1 1"/>
<path d="M803,6.8H816.2" stroke="#505050" stroke-width="1" stroke-dasharray="1 1"/>
<path d="M803,10.6H816.2" stroke="#505050" stroke-width="1" stroke-dasharray="1 1"/>
<path d="M803,14.3H811" stroke="#505050" stroke-width="1" stroke-dasharray="1 1"/>
<text x="812.6" y="18.6" font-size="7" fill="#444" style="font-family:'Liberation Sans',sans-serif;font-weight:bold">F</text>
<text x="833.4" y="14.7" font-size="12" fill="#505050" style="font-family:'Liberation Sans',sans-serif;font-weight:bold">A</text>
<rect x="860" y="4.4" width="11.6" height="12" fill="none" stroke="#505050" stroke-width="1" stroke-dasharray="1 1"/><rect x="859.4" y="3.4" width="2" height="1.6" fill="#505050"/>
<text x="862" y="14.8" font-size="11.5" fill="#505050" style="font-family:'Liberation Sans',sans-serif;font-weight:bold">T</text>
<path d="M890.6,4 893.6,7 890.6,9 887.6,7Z" fill="#505050"/><path d="M897.6,11.6 900.8,14.2 897.6,17 894.4,14.2Z" fill="#505050"/><path d="M890.4,11 892.4,13 896,8.2" stroke="#505050" stroke-width="1.4" fill="none"/>
<polygon points="907.6,9 913.2,9 910.4,12.2" fill="#000"/>
<rect x="919" y="0" width="1" height="22" fill="#a0a0a0"/><rect x="920" y="0" width="1" height="22" fill="#fbfbfb"/>
<rect x="923" y="0" width="3" height="1" fill="#8e8e8e"/>
<rect x="923" y="2" width="3" height="1" fill="#8e8e8e"/>
<rect x="923" y="4" width="3" height="1" fill="#8e8e8e"/>
<rect x="923" y="6" width="3" height="1" fill="#8e8e8e"/>
<rect x="923" y="8" width="3" height="1" fill="#8e8e8e"/>
<rect x="923" y="10" width="3" height="1" fill="#8e8e8e"/>
<rect x="923" y="12" width="3" height="1" fill="#8e8e8e"/>
<rect x="923" y="14" width="3" height="1" fill="#8e8e8e"/>
<rect x="923" y="16" width="3" height="1" fill="#8e8e8e"/>
<rect x="923" y="18" width="3" height="1" fill="#8e8e8e"/>
<rect x="1069" y="0" width="25" height="20" fill="url(#chk)"/>
<rect x="1069" y="0" width="1" height="20" fill="#808080"/>
<rect x="1069" y="20" width="26" height="1" fill="#fff"/><rect x="1094" y="0" width="1" height="21" fill="#fff"/>
<text x="934.3" y="14.2" font-size="10.4" letter-spacing="-0.55" fill="#3c3c3c" style="font-family:'Liberation Sans',sans-serif">M1</text>
<text x="962.2" y="14.2" font-size="10.4" letter-spacing="-0.55" fill="#3c3c3c" style="font-family:'Liberation Sans',sans-serif">M5</text>
<text x="988.6" y="14.2" font-size="10.4" letter-spacing="-0.55" fill="#3c3c3c" style="font-family:'Liberation Sans',sans-serif">M15</text>
<text x="1016.3" y="14.2" font-size="10.4" letter-spacing="-0.55" fill="#3c3c3c" style="font-family:'Liberation Sans',sans-serif">M30</text>
<text x="1047.6" y="14.2" font-size="10.4" letter-spacing="-0.55" fill="#3c3c3c" style="font-family:'Liberation Sans',sans-serif">H1</text>
<text x="1074.4" y="14.2" font-size="10.4" letter-spacing="-0.55" fill="#3c3c3c" style="font-family:'Liberation Sans',sans-serif">H4</text>
<text x="1103.2" y="14.2" font-size="10.4" letter-spacing="-0.55" fill="#3c3c3c" style="font-family:'Liberation Sans',sans-serif">D1</text>
<text x="1130.4" y="14.2" font-size="10.4" letter-spacing="-0.55" fill="#3c3c3c" style="font-family:'Liberation Sans',sans-serif">W1</text>
<text x="1157.3" y="14.2" font-size="10.4" letter-spacing="-0.55" fill="#3c3c3c" style="font-family:'Liberation Sans',sans-serif">MN</text>
<rect x="1180" y="0" width="1" height="22" fill="#a0a0a0"/><rect x="1181" y="0" width="1" height="22" fill="#fbfbfb"/>
<path d="M1647.4,10.9 1643.4,14.7" stroke="#2050c8" stroke-width="3" stroke-linecap="round"/><circle cx="1650.6" cy="7.4" r="3.8" fill="#f4f6ff" stroke="#2a60d0" stroke-width="1.5"/>
<path d="M1667.4,10.4Q1667.4,7.4 1671,7.4H1676Q1679,7.4 1679,10.4V12.6Q1679,15.6 1676,15.6H1673.4L1670.6,18.4 1670.8,15.6Q1667.4,15.4 1667.4,12.6Z" fill="#f0f0f4" stroke="#a8a8a8" stroke-width=".9"/>
<circle cx="1681.6" cy="7.6" r="8.4" fill="url(#redc2)"/>
<text x="1677.4" y="12" font-size="12" fill="#fff" stroke="#fff" stroke-width="0.3" style="font-family:'DejaVu Sans','Liberation Sans',sans-serif">1</text>
</svg>
<div id="oc">
  <div class="mid"></div>
  <div class="btn sell"><span>SELL</span><i></i><b></b></div>
  <div class="btn buy"><span>BUY</span><i></i><b></b></div>
  <div class="vol">
    <div class="sp dn"><svg width="7" height="4" viewBox="0 0 7 4"><polygon points="0,0 7,0 3.5,4" fill="#4a5fc0"/></svg></div>
    <div class="val">1.00</div>
    <div class="sp up"><svg width="7" height="4" viewBox="0 0 7 4"><polygon points="0,4 7,4 3.5,0" fill="#4a5fc0"/></svg></div>
  </div>
  <div class="px ps"><span class="s">134</span><svg class="bg" width="101" height="33" viewBox="0 0 101 33"><defs><linearGradient id="pgs" x1="0" y1="0" x2="0" y2="33" gradientUnits="userSpaceOnUse"><stop offset="0" stop-color="#d62a2a"/><stop offset=".5" stop-color="#c41616"/><stop offset="1" stop-color="#ae0000"/></linearGradient></defs><text x="39" y="28.5" font-size="36.5" textLength="36.2" lengthAdjust="spacingAndGlyphs" fill="#fff" stroke="url(#pgs)" stroke-width="0.5">35</text></svg><span class="t">4</span></div>
  <div class="px pb"><span class="s">134</span><svg class="bg" width="108" height="33" viewBox="0 0 108 33"><defs><linearGradient id="pgb" x1="0" y1="0" x2="0" y2="33" gradientUnits="userSpaceOnUse"><stop offset="0" stop-color="#d62a2a"/><stop offset=".5" stop-color="#c41616"/><stop offset="1" stop-color="#ae0000"/></linearGradient></defs><text x="47.4" y="28.5" font-size="36.5" textLength="36.2" lengthAdjust="spacingAndGlyphs" fill="#fff" stroke="url(#pgb)" stroke-width="0.5">37</text></svg><span class="t">4</span></div>
</div>

</body></html>
